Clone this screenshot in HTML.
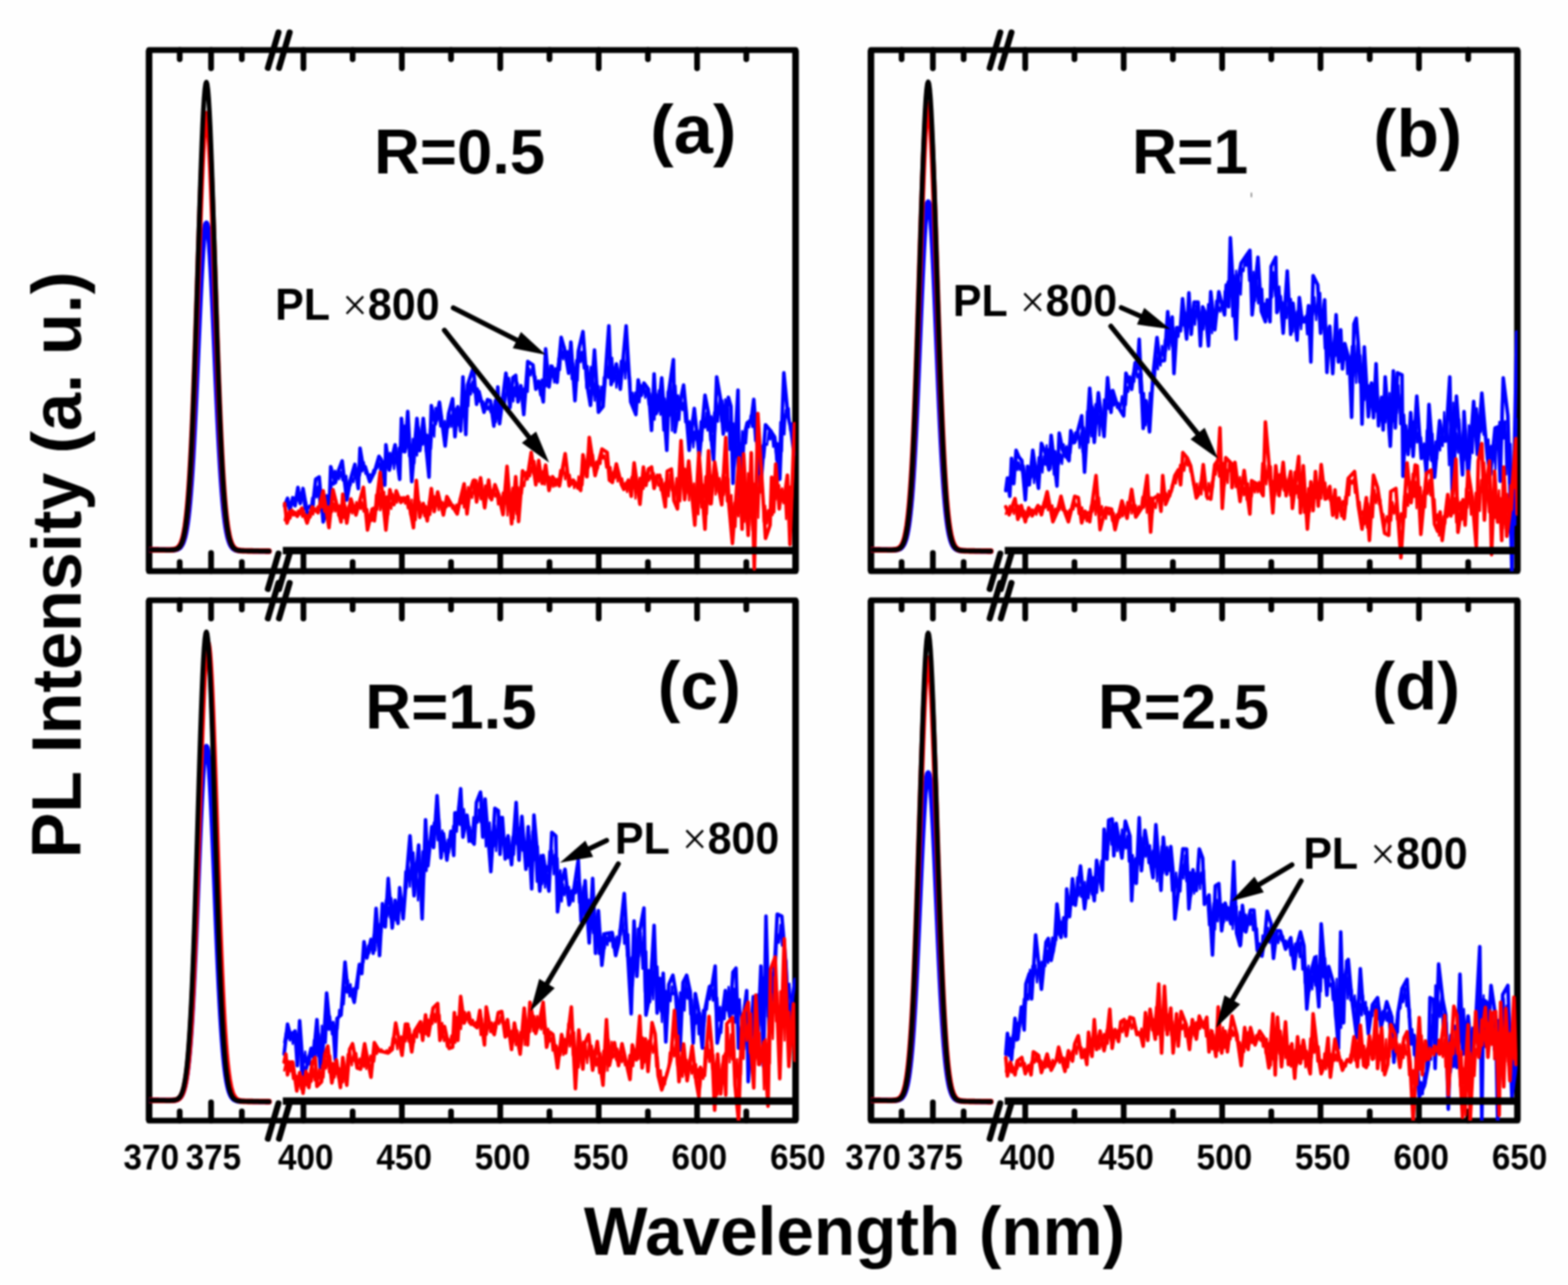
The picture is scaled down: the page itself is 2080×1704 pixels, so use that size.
<!DOCTYPE html>
<html lang="en"><head><meta charset="utf-8"><title>PL spectra</title>
<style>
html,body{margin:0;padding:0;background:#fff;}
body{width:2080px;height:1704px;overflow:hidden;}
svg{display:block;font-family:"Liberation Sans",sans-serif;font-weight:bold;fill:#000;}
</style></head><body>
<svg width="2080" height="1704" viewBox="0 0 2080 1704">
<defs><clipPath id="cpa"><rect x="197.75" y="66.40" width="857.55" height="691.00"/></clipPath><clipPath id="cpb"><rect x="1155.30" y="66.40" width="857.60" height="691.00"/></clipPath><clipPath id="cpc"><rect x="197.75" y="796.00" width="857.55" height="690.00"/></clipPath><clipPath id="cpd"><rect x="1155.30" y="796.00" width="857.60" height="690.00"/></clipPath><filter id="soft" x="0" y="0" width="100%" height="100%" filterUnits="userSpaceOnUse" color-interpolation-filters="sRGB"><feGaussianBlur stdDeviation="1.15"/></filter></defs>
<rect width="2080" height="1704" fill="#fefefe"/>
<g filter="url(#soft)">
<rect width="2080" height="1704" fill="#fefefe"/>
<g id="panel-a">
<rect x="197.75" y="66.40" width="857.55" height="691.00" fill="none" stroke="#000" stroke-width="7.7" stroke-linejoin="round"/>
<path d="M197.75 66.40 V757.40 M1055.30 66.40 V757.40" fill="none" stroke="#000" stroke-width="8.7"/>
<path d="M238.4 66.4 V78.6 M238.4 757.4 V745.2 M280.0 66.4 V90.6 M280.0 757.4 V733.2 M320.8 66.4 V78.6 M320.8 757.4 V745.2 M402.5 66.4 V90.6 M402.5 757.4 V733.2 M467.8 66.4 V78.6 M467.8 757.4 V745.2 M533.1 66.4 V90.6 M533.1 757.4 V733.2 M598.3 66.4 V78.6 M598.3 757.4 V745.2 M663.6 66.4 V90.6 M663.6 757.4 V733.2 M728.9 66.4 V78.6 M728.9 757.4 V745.2 M794.2 66.4 V90.6 M794.2 757.4 V733.2 M859.5 66.4 V78.6 M859.5 757.4 V745.2 M924.7 66.4 V90.6 M924.7 757.4 V733.2 M990.0 66.4 V78.6 M990.0 757.4 V745.2" fill="none" stroke="#000" stroke-width="7.6" stroke-linecap="round"/>
<path d="M369.4 43.0 L355.4 90.0 M384.2 43.0 L370.2 90.0 M369.4 734.0 L355.4 781.0 M384.2 734.0 L370.2 781.0" fill="none" stroke="#000" stroke-width="8" stroke-linecap="round"/>
<g clip-path="url(#cpa)" fill="none" stroke-linejoin="round" stroke-linecap="round">
<path d="M197.8 729.0 L198.8 729.0 L199.8 729.0 L200.8 729.0 L201.8 729.0 L202.8 729.1 L203.8 729.1 L204.8 729.1 L205.8 729.1 L206.8 729.1 L207.8 729.1 L208.8 729.1 L209.8 729.1 L210.8 729.2 L211.8 729.2 L212.8 729.2 L213.8 729.2 L214.8 729.2 L215.8 729.2 L216.8 729.2 L217.8 729.2 L218.8 729.2 L219.8 729.3 L220.8 729.3 L221.8 729.3 L222.8 729.3 L223.8 729.3 L224.8 729.3 L225.8 729.3 L226.8 729.3 L227.8 729.2 L228.8 729.2 L229.8 729.2 L230.8 729.1 L231.8 729.0 L232.8 728.8 L233.8 728.6 L234.8 728.3 L235.8 727.9 L236.8 727.4 L237.8 726.7 L238.8 725.9 L239.8 724.7 L240.8 723.3 L241.8 721.6 L242.8 719.3 L243.8 716.6 L244.8 713.3 L245.8 709.2 L246.8 704.3 L247.8 698.5 L248.8 691.7 L249.8 683.7 L250.8 674.5 L251.8 663.9 L252.8 651.8 L253.8 638.3 L254.8 623.3 L255.8 606.8 L256.8 588.8 L257.8 569.4 L258.8 548.8 L259.8 527.2 L260.8 504.7 L261.8 481.7 L262.8 458.4 L263.8 435.3 L264.8 412.7 L265.8 391.0 L266.8 370.6 L267.8 352.0 L268.8 335.6 L269.8 321.6 L270.8 310.4 L271.8 302.3 L272.8 297.4 L273.8 295.9 L274.8 297.8 L275.8 303.0 L276.8 311.5 L277.8 323.0 L278.8 337.2 L279.8 353.9 L280.8 372.8 L281.8 393.3 L282.8 415.1 L283.8 437.8 L284.8 461.0 L285.8 484.3 L286.8 507.3 L287.8 529.7 L288.8 551.3 L289.8 571.8 L290.8 591.1 L291.8 608.9 L292.8 625.3 L293.8 640.2 L294.8 653.6 L295.8 665.5 L296.8 676.0 L297.8 685.1 L298.8 693.0 L299.8 699.8 L300.8 705.5 L301.8 710.3 L302.8 714.3 L303.8 717.6 L304.8 720.3 L305.8 722.5 L306.8 724.3 L307.8 725.7 L308.8 726.8 L309.8 727.7 L310.8 728.3 L311.8 728.9 L312.8 729.3 L313.8 729.6 L314.8 729.8 L315.8 730.0 L316.8 730.1 L317.8 730.2 L318.8 730.3 L319.8 730.4 L320.8 730.4 L321.8 730.4 L322.8 730.5 L323.8 730.5 L324.8 730.5 L325.8 730.5 L326.8 730.5 L327.8 730.6 L328.8 730.6 L329.8 730.6 L330.8 730.6 L331.8 730.6 L332.8 730.6 L333.8 730.6 L334.8 730.6 L335.8 730.7 L336.8 730.7 L337.8 730.7 L338.8 730.7 L339.8 730.7 L340.8 730.7 L341.8 730.7 L342.8 730.7 L343.8 730.8 L344.8 730.8 L345.8 730.8 L346.8 730.8 L347.8 730.8 L348.8 730.8 L349.8 730.8 L350.8 730.8 L351.8 730.8 L352.8 730.9 L353.8 730.9 L354.8 730.9 L355.8 730.9 L356.8 730.9" stroke="#0000ff" stroke-width="7"/>
<path d="M197.8 729.0 L198.8 729.0 L199.8 729.0 L200.8 729.0 L201.8 729.0 L202.8 729.1 L203.8 729.1 L204.8 729.1 L205.8 729.1 L206.8 729.1 L207.8 729.1 L208.8 729.1 L209.8 729.1 L210.8 729.2 L211.8 729.2 L212.8 729.2 L213.8 729.2 L214.8 729.2 L215.8 729.2 L216.8 729.2 L217.8 729.2 L218.8 729.2 L219.8 729.3 L220.8 729.3 L221.8 729.3 L222.8 729.3 L223.8 729.3 L224.8 729.2 L225.8 729.2 L226.8 729.2 L227.8 729.1 L228.8 729.1 L229.8 728.9 L230.8 728.8 L231.8 728.6 L232.8 728.3 L233.8 727.9 L234.8 727.4 L235.8 726.7 L236.8 725.8 L237.8 724.7 L238.8 723.3 L239.8 721.5 L240.8 719.3 L241.8 716.5 L242.8 713.1 L243.8 708.9 L244.8 703.8 L245.8 697.8 L246.8 690.6 L247.8 682.2 L248.8 672.3 L249.8 660.9 L250.8 647.8 L251.8 633.0 L252.8 616.3 L253.8 597.7 L254.8 577.2 L255.8 554.8 L256.8 530.6 L257.8 504.7 L258.8 477.4 L259.8 448.8 L260.8 419.3 L261.8 389.2 L262.8 358.9 L263.8 329.0 L264.8 299.9 L265.8 272.0 L266.8 246.0 L267.8 222.2 L268.8 201.2 L269.8 183.5 L270.8 169.3 L271.8 159.0 L272.8 152.8 L273.8 150.9 L274.8 153.3 L275.8 159.9 L276.8 170.6 L277.8 185.2 L278.8 203.3 L279.8 224.6 L280.8 248.6 L281.8 274.9 L282.8 302.9 L283.8 332.2 L284.8 362.2 L285.8 392.5 L286.8 422.6 L287.8 452.0 L288.8 480.5 L289.8 507.8 L290.8 533.5 L291.8 557.6 L292.8 579.8 L293.8 600.2 L294.8 618.6 L295.8 635.1 L296.8 649.8 L297.8 662.7 L298.8 674.0 L299.8 683.7 L300.8 692.1 L301.8 699.1 L302.8 705.1 L303.8 710.1 L304.8 714.2 L305.8 717.6 L306.8 720.3 L307.8 722.5 L308.8 724.3 L309.8 725.7 L310.8 726.8 L311.8 727.7 L312.8 728.4 L313.8 728.9 L314.8 729.3 L315.8 729.6 L316.8 729.8 L317.8 730.0 L318.8 730.1 L319.8 730.2 L320.8 730.3 L321.8 730.4 L322.8 730.4 L323.8 730.5 L324.8 730.5 L325.8 730.5 L326.8 730.5 L327.8 730.5 L328.8 730.6 L329.8 730.6 L330.8 730.6 L331.8 730.6 L332.8 730.6 L333.8 730.6 L334.8 730.6 L335.8 730.7 L336.8 730.7 L337.8 730.7 L338.8 730.7 L339.8 730.7 L340.8 730.7 L341.8 730.7 L342.8 730.7 L343.8 730.8 L344.8 730.8 L345.8 730.8 L346.8 730.8 L347.8 730.8 L348.8 730.8 L349.8 730.8 L350.8 730.8 L351.8 730.8 L352.8 730.9 L353.8 730.9 L354.8 730.9 L355.8 730.9 L356.8 730.9" stroke="#ff0000" stroke-width="7.6"/>
<path d="M377.6 669.6 L379.5 665.5 L381.1 670.9 L382.8 666.2 L384.5 669.5 L386.5 665.2 L388.5 669.1 L390.5 659.9 L392.7 664.6 L394.7 658.1 L396.5 665.0 L398.6 654.5 L400.1 663.0 L402.3 661.6 L404.2 675.5 L405.9 665.9 L408.0 675.9 L410.2 670.4 L412.0 675.6 L414.0 660.1 L416.0 670.4 L418.0 643.3 L420.0 659.7 L421.6 644.9 L423.9 667.0 L426.0 657.7 L427.7 677.4 L429.4 659.3 L431.6 679.3 L433.5 656.3 L435.4 668.3 L437.1 650.0 L438.6 659.0 L440.2 638.9 L442.5 642.8 L444.5 624.2 L446.5 635.5 L448.1 623.9 L449.8 635.5 L452.1 625.4 L454.3 637.0 L455.8 631.8 L457.9 641.7 L459.5 631.0 L461.7 650.9 L463.6 636.8 L465.3 643.4 L466.9 634.4 L469.0 639.5 L471.3 621.6 L473.2 629.7 L475.3 619.1 L477.6 630.6 L479.5 618.8 L481.0 625.1 L482.8 612.8 L484.7 628.3 L486.8 624.2 L488.9 632.0 L491.0 629.0 L493.0 631.1 L495.3 623.1 L497.1 627.5 L498.6 617.8 L500.3 621.2 L502.3 612.5 L504.5 624.0 L506.1 607.9 L508.0 619.0 L509.8 611.5 L511.4 624.6 L513.0 610.8 L515.0 622.7 L517.3 600.5 L519.3 611.5 L521.0 599.7 L522.7 622.0 L524.9 601.6 L527.2 615.2 L529.0 593.7 L530.6 615.6 L532.8 589.1 L535.0 599.7 L536.7 564.5 L538.8 595.6 L540.7 575.7 L542.6 605.2 L544.2 588.4 L545.9 617.4 L547.6 581.9 L549.9 614.2 L551.6 576.1 L553.3 604.2 L555.5 566.4 L557.2 593.0 L559.1 568.5 L561.1 589.5 L563.1 572.7 L564.9 598.4 L566.9 576.3 L568.6 602.8 L570.3 567.8 L571.9 595.2 L573.8 563.5 L576.1 579.1 L577.8 540.6 L579.7 558.6 L581.8 547.7 L584.0 565.7 L586.1 552.0 L588.2 575.5 L590.1 558.2 L592.2 577.0 L593.8 553.9 L595.4 566.8 L597.1 549.9 L598.8 566.0 L600.7 542.0 L602.7 563.4 L604.6 541.6 L606.4 564.7 L608.5 542.6 L610.7 558.1 L612.9 534.1 L614.5 552.7 L616.2 525.5 L617.9 550.8 L619.5 513.4 L621.4 538.7 L623.2 507.8 L624.8 523.1 L626.6 505.9 L628.3 520.3 L630.1 508.5 L632.3 520.3 L633.8 515.0 L635.7 532.7 L637.7 527.8 L639.3 538.4 L641.0 532.2 L642.9 540.7 L645.1 533.2 L646.9 543.1 L648.7 539.0 L650.6 546.6 L652.1 535.7 L654.3 552.4 L656.2 530.8 L658.0 559.8 L659.8 542.3 L661.4 557.6 L663.6 527.6 L665.8 537.6 L668.0 516.3 L669.9 535.6 L672.1 515.7 L673.7 524.6 L675.4 501.0 L677.4 524.8 L679.4 506.3 L681.0 532.4 L682.7 513.5 L684.4 525.7 L686.7 507.7 L688.9 531.2 L690.9 513.2 L692.7 528.7 L694.6 515.1 L696.3 524.0 L698.4 497.4 L700.2 519.6 L701.8 488.3 L704.0 498.0 L706.0 486.9 L708.2 501.4 L710.4 499.0 L712.5 514.9 L714.5 511.2 L716.6 524.1 L718.6 503.2 L720.8 512.6 L722.5 501.2 L724.7 512.3 L726.7 487.3 L728.2 505.2 L730.0 484.7 L731.5 500.5 L733.1 493.6 L735.2 507.4 L736.8 488.1 L738.5 499.2 L740.8 475.4 L742.9 490.6 L745.0 462.9 L747.2 476.5 L748.9 459.6 L750.7 478.0 L753.0 465.7 L755.2 492.3 L756.7 471.6 L758.3 502.8 L760.5 481.9 L762.3 507.5 L764.3 477.7 L766.4 504.7 L768.6 458.6 L770.3 480.3 L772.1 466.4 L774.3 488.7 L775.9 467.8 L777.7 514.6 L779.5 485.3 L781.4 513.0 L783.5 486.5 L785.2 524.2 L786.9 500.2 L788.9 531.3 L790.5 504.0 L792.1 527.3 L794.2 511.9 L795.9 540.7 L797.7 512.7 L799.4 531.8 L800.9 500.4 L802.5 516.1 L804.4 482.7 L806.7 501.4 L808.6 469.5 L810.3 493.4 L812.2 474.4 L813.7 506.3 L815.6 487.8 L817.6 514.1 L819.3 494.3 L821.3 505.7 L823.5 478.5 L825.6 496.7 L827.2 471.0 L829.4 502.1 L831.6 467.2 L833.5 501.5 L835.7 498.8 L837.4 534.4 L839.3 520.7 L840.8 538.4 L842.7 520.3 L844.3 536.5 L846.3 522.9 L848.4 533.7 L850.6 511.0 L852.5 520.4 L854.2 511.4 L855.9 527.5 L858.0 514.6 L860.3 536.5 L862.3 521.4 L864.0 544.2 L866.1 524.4 L868.3 556.7 L870.4 522.0 L872.0 540.7 L873.9 517.6 L875.9 550.2 L877.7 529.2 L879.9 570.9 L881.8 528.3 L883.6 553.5 L885.6 519.4 L887.8 551.8 L889.5 505.6 L891.2 571.3 L893.0 506.3 L894.6 543.5 L896.2 511.5 L897.8 543.6 L899.6 524.2 L901.2 557.0 L903.4 525.1 L905.2 543.8 L907.0 533.9 L908.9 560.0 L910.6 544.4 L912.6 575.7 L914.6 558.3 L916.5 578.7 L918.2 555.0 L919.8 593.4 L921.8 571.8 L923.9 584.3 L925.5 570.7 L927.2 590.1 L929.4 558.6 L931.4 584.8 L933.1 552.7 L935.3 567.3 L937.0 547.4 L938.5 571.0 L940.5 550.2 L942.1 583.8 L943.7 552.0 L945.5 572.8 L947.2 547.0 L948.7 573.0 L950.8 533.1 L952.4 559.3 L954.6 528.1 L956.5 558.8 L958.3 530.9 L960.2 556.4 L962.1 529.3 L964.0 572.0 L965.8 541.5 L967.8 596.6 L969.4 556.4 L971.1 598.3 L973.0 561.4 L974.9 607.1 L977.1 591.2 L979.0 637.7 L980.6 586.8 L982.7 606.5 L984.4 571.6 L986.1 615.1 L987.6 581.6 L989.7 588.0 L991.6 564.3 L993.6 566.7 L995.7 551.0 L997.8 566.3 L999.5 553.0 L1001.7 584.6 L1003.2 569.6 L1005.3 614.5 L1007.5 594.7 L1009.5 626.7 L1011.5 590.6 L1013.7 607.1 L1015.5 588.5 L1017.7 589.9 L1019.8 572.3 L1021.6 582.9 L1023.6 571.2 L1025.7 592.6 L1027.6 579.6 L1029.7 610.7 L1031.5 587.7 L1033.4 614.1 L1035.1 559.7 L1037.3 598.5 L1039.0 548.0 L1040.7 576.1 L1042.3 543.8 L1044.6 553.6 L1046.4 541.3 L1048.0 570.6 L1050.2 561.4 L1052.0 581.8" stroke="#0000ff" stroke-width="2.8"/>
<path d="M377.6 670.7 L381.4 660.8 L384.5 676.8 L388.3 660.0 L391.4 670.7 L395.2 646.3 L398.2 667.7 L402.0 647.8 L408.1 682.9 L414.2 676.8 L418.8 635.6 L423.4 632.6 L428.7 692.1 L437.1 663.1 L438.7 618.8 L444.8 640.2 L449.3 623.4 L453.9 611.2 L460.0 663.1 L465.4 634.1 L470.7 615.8 L475.3 647.8 L477.6 594.4 L481.4 617.3 L484.4 618.8 L490.5 638.7 L496.6 626.5 L502.7 605.1 L507.3 612.7 L510.4 643.3 L511.9 589.9 L516.5 623.4 L524.1 589.9 L530.2 635.6 L532.5 554.8 L537.1 599.0 L540.9 545.6 L546.2 638.7 L553.1 554.8 L556.9 597.5 L561.5 554.8 L569.1 632.6 L572.2 538.0 L577.5 562.4 L582.9 533.4 L590.5 591.4 L595.1 548.7 L600.4 528.8 L603.5 579.2 L607.3 539.5 L611.1 571.5 L614.1 499.8 L617.9 576.1 L620.2 510.5 L627.9 487.6 L632.2 536.0 L635.3 519.2 L642.1 546.6 L646.7 529.9 L650.5 531.4 L655.1 565.0 L660.4 513.1 L662.7 561.9 L671.1 494.8 L676.5 540.5 L680.3 500.9 L684.1 497.8 L687.1 532.9 L691.0 511.5 L694.8 549.7 L700.1 479.5 L707.0 484.1 L710.8 516.1 L714.6 505.4 L720.7 532.9 L723.8 462.7 L728.3 513.1 L732.1 485.6 L739.0 507.0 L744.4 447.5 L749.7 465.8 L754.3 494.8 L757.3 453.6 L762.7 531.4 L767.2 465.8 L773.3 439.8 L778.7 510.0 L783.3 537.5 L788.6 464.2 L793.9 546.6 L800.0 539.0 L807.7 432.2 L810.7 510.0 L817.6 482.6 L822.9 516.1 L830.6 432.2 L836.7 532.9 L843.5 549.7 L846.6 503.9 L850.8 524.2 L854.2 508.0 L860.2 516.1 L864.3 570.7 L867.7 495.8 L870.4 548.5 L873.7 540.4 L877.8 501.2 L884.5 597.1 L887.2 518.8 L893.3 476.9 L895.3 572.8 L899.4 547.1 L906.8 510.7 L910.2 545.8 L914.2 597.1 L921.0 541.7 L927.7 606.5 L935.2 524.2 L939.9 548.5 L946.6 609.9 L950.7 499.9 L956.1 530.9 L959.5 575.5 L966.2 526.9 L969.6 539.0 L972.3 640.9 L979.0 517.4 L981.1 678.7 L985.1 586.3 L991.2 560.6 L996.6 556.6 L999.9 529.6 L1008.7 651.7 L1015.5 563.3 L1022.2 571.4 L1027.6 579.5 L1034.4 635.5 L1039.8 494.5 L1045.2 551.2 L1049.2 568.7 L1053.3 602.5" stroke="#0000ff" stroke-width="4.8"/>
<path d="M377.6 690.1 L379.6 678.4 L381.5 686.5 L383.3 677.5 L385.3 687.6 L387.1 680.6 L389.3 683.8 L391.5 678.6 L393.7 681.7 L395.4 677.0 L397.2 682.3 L399.2 679.9 L401.0 685.5 L402.7 679.3 L404.8 685.8 L406.4 682.5 L408.3 687.6 L410.2 681.2 L412.1 686.1 L413.7 679.3 L415.5 682.3 L417.4 674.4 L419.2 678.4 L421.1 671.6 L422.8 674.1 L424.6 666.6 L426.8 673.1 L428.4 662.7 L430.0 678.7 L431.9 668.1 L433.8 685.0 L435.5 671.5 L437.5 683.8 L439.2 671.1 L441.0 678.7 L442.6 667.3 L444.6 678.3 L446.4 664.2 L448.5 683.7 L450.4 669.8 L452.6 685.8 L454.3 674.4 L456.4 687.2 L458.0 670.2 L460.1 678.8 L462.3 671.0 L464.1 679.5 L465.6 670.0 L467.2 681.1 L469.0 669.1 L471.0 676.6 L472.6 665.6 L474.8 672.7 L476.6 665.5 L478.5 675.2 L480.1 665.6 L482.2 678.4 L483.8 671.2 L485.6 687.0 L487.3 675.1 L489.4 692.5 L491.1 681.6 L493.1 690.9 L495.1 673.1 L497.1 681.8 L498.7 656.1 L500.8 675.8 L502.7 648.0 L504.4 676.9 L506.1 652.1 L507.7 674.9 L509.8 652.2 L511.4 682.9 L512.9 658.1 L515.2 682.3 L516.9 665.6 L519.1 674.8 L520.9 655.2 L523.2 665.2 L525.1 655.9 L526.7 666.7 L528.6 657.8 L530.8 662.3 L532.5 659.2 L534.0 664.6 L535.6 658.9 L537.3 668.0 L539.2 663.3 L541.0 674.2 L542.7 668.8 L544.2 683.0 L546.0 662.5 L547.8 687.7 L549.7 662.5 L551.6 689.7 L553.2 660.8 L555.2 677.3 L557.0 665.3 L559.2 680.1 L561.2 674.6 L562.9 684.6 L565.1 671.0 L567.0 680.6 L568.9 665.1 L570.9 682.8 L572.7 665.9 L574.5 672.6 L576.2 658.1 L578.0 672.2 L579.8 662.9 L581.9 676.5 L583.5 662.1 L585.5 671.4 L587.1 665.6 L589.4 672.4 L590.9 668.1 L592.5 672.8 L594.4 666.9 L596.0 671.4 L598.1 667.9 L599.9 674.5 L601.9 669.7 L603.9 677.3 L605.6 668.9 L607.8 672.8 L610.0 661.3 L612.3 667.7 L613.8 657.2 L615.3 673.1 L617.0 656.6 L618.8 669.2 L620.9 645.6 L622.9 662.0 L624.6 651.2 L626.5 660.4 L628.1 647.0 L629.8 655.0 L632.0 636.6 L634.1 653.7 L636.2 648.0 L637.7 662.3 L640.0 651.4 L641.5 664.0 L643.6 643.7 L645.5 660.2 L647.5 649.4 L649.3 660.7 L651.0 648.8 L653.0 658.4 L655.3 648.2 L656.9 658.6 L658.8 653.4 L660.6 669.1 L662.8 656.0 L665.0 670.5 L667.0 653.2 L669.2 669.2 L671.5 648.3 L673.1 683.6 L675.4 644.1 L677.7 671.6 L679.8 646.7 L681.4 688.1 L683.3 655.9 L685.2 681.9 L687.1 645.9 L688.7 663.2 L690.3 645.1 L692.3 654.9 L694.1 639.4 L695.7 644.7 L697.8 625.8 L699.6 631.3 L701.5 619.8 L703.2 631.8 L705.3 618.8 L707.4 628.8 L709.1 611.4 L711.1 629.9 L713.0 621.8 L714.9 639.2 L716.9 624.3 L718.7 632.5 L720.5 624.6 L722.7 642.9 L724.6 629.5 L726.7 641.6 L728.7 631.8 L730.3 640.4 L732.0 634.3 L733.9 645.6 L735.7 638.8 L737.2 644.6 L738.9 634.8 L741.1 637.4 L743.2 623.3 L745.4 630.9 L747.5 620.4 L749.7 635.7 L751.7 623.4 L753.7 635.0 L755.9 629.6 L758.0 642.7 L759.7 636.1 L761.6 647.4 L763.5 640.2 L765.6 648.0 L767.4 631.6 L769.0 644.9 L771.0 628.0 L772.8 643.4 L775.0 614.5 L777.1 632.3 L779.2 601.9 L781.2 620.3 L782.9 605.1 L784.6 617.8 L786.8 603.2 L788.7 624.1 L790.9 611.8 L793.1 621.5 L794.6 610.0 L796.7 615.2 L798.4 599.0 L800.0 608.1 L801.9 603.9 L804.1 620.0 L805.8 608.2 L808.0 627.2 L810.0 619.4 L811.7 635.5 L813.8 625.5 L815.5 634.2 L817.4 624.6 L819.2 638.5 L821.4 627.7 L823.2 638.8 L825.3 634.3 L827.5 645.0 L829.7 640.3 L831.8 652.6 L834.0 642.0 L835.9 648.2 L837.5 632.6 L839.1 648.9 L841.1 629.9 L842.9 661.2 L844.6 633.4 L846.4 655.5 L848.6 633.5 L850.6 654.3 L852.3 637.0 L853.8 648.4 L856.0 630.3 L858.0 633.9 L859.6 624.4 L861.1 637.5 L863.1 630.2 L865.3 636.7 L867.3 627.2 L869.4 637.8 L871.5 629.1 L873.1 644.0 L874.7 640.9 L876.3 650.1 L878.2 635.1 L880.2 652.8 L882.1 639.8 L883.7 660.0 L885.4 634.2 L887.2 658.4 L889.0 628.6 L891.0 650.3 L892.8 638.5 L894.9 665.9 L897.2 634.0 L898.9 660.3 L900.9 638.1 L902.5 664.8 L904.8 621.2 L906.7 648.4 L908.7 621.5 L910.3 654.3 L912.3 633.3 L914.0 663.7 L916.3 634.6 L918.4 666.4 L920.7 641.0 L922.5 677.6 L924.7 634.3 L926.5 682.3 L928.5 635.9 L930.3 673.2 L932.1 642.2 L933.9 660.0 L935.7 631.6 L937.8 681.6 L939.5 646.7 L941.5 668.9 L943.7 630.6 L945.5 649.2 L947.6 621.7 L949.3 656.0 L951.3 628.0 L952.8 653.1 L954.7 633.9 L956.8 654.3 L958.7 629.8 L960.3 656.5 L962.3 632.7 L964.2 664.8 L966.4 634.7 L968.3 679.0 L970.4 656.5 L972.0 702.4 L974.0 666.6 L975.8 698.6 L977.4 660.7 L979.5 684.9 L981.6 631.1 L983.2 670.4 L985.3 626.4 L987.4 692.2 L989.1 655.2 L990.7 695.3 L992.3 627.5 L993.9 697.5 L996.0 653.9 L998.0 703.2 L999.7 640.8 L1002.0 702.3 L1003.7 625.2 L1005.9 686.6 L1007.8 631.0 L1009.3 653.1 L1011.4 637.7 L1013.0 692.0 L1015.1 670.6 L1017.3 694.5 L1018.9 676.4 L1020.9 695.0 L1022.8 663.2 L1024.9 683.2 L1026.9 652.3 L1028.5 662.7 L1030.2 640.3 L1032.0 663.4 L1033.7 643.3 L1035.4 663.9 L1037.6 647.4 L1039.2 667.3 L1040.9 649.5 L1042.8 688.4 L1044.3 647.7 L1045.9 679.9 L1048.1 645.2 L1050.3 670.1 L1052.3 626.2" stroke="#ff0000" stroke-width="2.8"/>
<path d="M377.6 667.7 L380.7 693.6 L386.8 676.8 L394.4 684.5 L400.5 673.8 L407.4 693.6 L414.2 672.3 L421.9 679.9 L428.7 650.9 L436.4 699.7 L441.7 649.4 L452.4 692.1 L454.7 655.5 L460.0 693.6 L465.4 661.6 L472.2 682.9 L482.1 646.3 L487.5 702.8 L493.6 675.3 L496.6 690.6 L504.3 626.5 L511.9 702.8 L517.2 649.4 L522.6 669.2 L525.6 650.9 L531.7 666.2 L540.9 658.5 L548.5 699.7 L552.3 637.2 L556.9 686.0 L561.5 667.7 L566.8 690.6 L572.2 647.8 L576.0 678.4 L580.6 652.4 L588.2 682.9 L592.8 658.5 L598.9 669.2 L606.5 681.4 L611.1 660.0 L615.7 641.7 L619.5 681.4 L623.3 650.9 L627.9 637.2 L629.2 636.7 L632.2 665.7 L637.5 633.6 L642.9 673.3 L648.2 636.7 L652.0 662.6 L656.6 642.8 L661.2 655.0 L667.3 682.4 L672.6 618.4 L678.7 694.6 L684.1 632.1 L687.9 691.6 L693.2 624.5 L699.3 635.1 L704.7 600.0 L710.8 642.8 L714.6 610.7 L719.2 641.2 L723.8 616.8 L728.3 650.4 L732.9 632.1 L742.1 644.3 L749.7 601.6 L755.0 644.3 L760.4 636.7 L770.3 650.4 L773.3 603.1 L778.7 632.1 L781.7 580.2 L789.4 630.6 L798.5 595.5 L805.4 600.0 L808.4 636.7 L812.3 639.7 L817.6 615.3 L824.5 642.8 L827.5 648.9 L833.6 636.7 L837.4 658.0 L841.2 613.8 L848.9 668.7 L853.5 619.4 L856.9 643.7 L860.2 622.1 L864.3 619.4 L867.7 647.7 L871.7 631.5 L875.1 630.2 L882.5 672.0 L885.2 624.8 L890.6 622.1 L894.0 663.9 L898.7 674.7 L903.4 584.3 L908.2 662.6 L913.6 611.3 L921.7 696.3 L927.1 600.5 L935.2 701.7 L939.9 597.8 L943.3 668.0 L948.0 612.6 L953.4 647.7 L957.4 669.3 L962.8 580.2 L966.2 661.2 L971.6 720.6 L980.4 607.2 L984.4 701.7 L986.4 601.8 L992.5 709.8 L996.6 600.5 L1000.6 754.4 L1005.3 548.5 L1015.5 713.9 L1021.5 696.3 L1023.6 632.9 L1026.3 678.8 L1029.0 615.3 L1033.7 674.7 L1036.4 650.4 L1039.8 665.3 L1044.5 630.2 L1047.9 722.0 L1053.9 562.0" stroke="#ff0000" stroke-width="4.8"/>
<path d="M197.8 729.0 L198.8 729.0 L199.8 729.0 L200.8 729.0 L201.8 729.0 L202.8 729.1 L203.8 729.1 L204.8 729.1 L205.8 729.1 L206.8 729.1 L207.8 729.1 L208.8 729.1 L209.8 729.1 L210.8 729.2 L211.8 729.2 L212.8 729.2 L213.8 729.2 L214.8 729.2 L215.8 729.2 L216.8 729.2 L217.8 729.2 L218.8 729.2 L219.8 729.3 L220.8 729.3 L221.8 729.3 L222.8 729.3 L223.8 729.3 L224.8 729.3 L225.8 729.3 L226.8 729.2 L227.8 729.2 L228.8 729.1 L229.8 729.1 L230.8 728.9 L231.8 728.8 L232.8 728.5 L233.8 728.2 L234.8 727.8 L235.8 727.2 L236.8 726.5 L237.8 725.5 L238.8 724.3 L239.8 722.7 L240.8 720.7 L241.8 718.1 L242.8 714.9 L243.8 711.0 L244.8 706.2 L245.8 700.4 L246.8 693.5 L247.8 685.1 L248.8 675.4 L249.8 663.9 L250.8 650.7 L251.8 635.5 L252.8 618.3 L253.8 599.0 L254.8 577.5 L255.8 553.8 L256.8 528.1 L257.8 500.4 L258.8 470.9 L259.8 439.9 L260.8 407.7 L261.8 374.8 L262.8 341.5 L263.8 308.4 L264.8 276.0 L265.8 245.0 L266.8 215.8 L267.8 189.2 L268.8 165.7 L269.8 145.7 L270.8 129.7 L271.8 118.1 L272.8 111.1 L273.8 108.9 L274.8 111.6 L275.8 119.1 L276.8 131.2 L277.8 147.6 L278.8 168.0 L279.8 191.9 L280.8 218.8 L281.8 248.2 L282.8 279.4 L283.8 311.9 L284.8 345.1 L285.8 378.4 L286.8 411.3 L287.8 443.4 L288.8 474.3 L289.8 503.6 L290.8 531.2 L291.8 556.7 L292.8 580.2 L293.8 601.5 L294.8 620.6 L295.8 637.6 L296.8 652.6 L297.8 665.7 L298.8 677.0 L299.8 686.7 L300.8 694.9 L301.8 701.7 L302.8 707.5 L303.8 712.2 L304.8 716.0 L305.8 719.2 L306.8 721.7 L307.8 723.7 L308.8 725.3 L309.8 726.5 L310.8 727.5 L311.8 728.2 L312.8 728.8 L313.8 729.2 L314.8 729.6 L315.8 729.8 L316.8 730.0 L317.8 730.1 L318.8 730.2 L319.8 730.3 L320.8 730.4 L321.8 730.4 L322.8 730.4 L323.8 730.5 L324.8 730.5 L325.8 730.5 L326.8 730.5 L327.8 730.6 L328.8 730.6 L329.8 730.6 L330.8 730.6 L331.8 730.6 L332.8 730.6 L333.8 730.6 L334.8 730.6 L335.8 730.7 L336.8 730.7 L337.8 730.7 L338.8 730.7 L339.8 730.7 L340.8 730.7 L341.8 730.7 L342.8 730.7 L343.8 730.8 L344.8 730.8 L345.8 730.8 L346.8 730.8 L347.8 730.8 L348.8 730.8 L349.8 730.8 L350.8 730.8 L351.8 730.8 L352.8 730.9 L353.8 730.9 L354.8 730.9 L355.8 730.9 L356.8 730.9" stroke="#000" stroke-width="6.2"/>
<path d="M375.2 730.1 H1055.3" stroke="#000" stroke-width="9.8" stroke-linecap="butt"/>
</g>
</g>
<g id="panel-b">
<rect x="1155.30" y="66.40" width="857.60" height="691.00" fill="none" stroke="#000" stroke-width="7.7" stroke-linejoin="round"/>
<path d="M1155.30 66.40 V757.40 M2012.90 66.40 V757.40" fill="none" stroke="#000" stroke-width="8.7"/>
<path d="M1196.0 66.4 V78.6 M1196.0 757.4 V745.2 M1237.5 66.4 V90.6 M1237.5 757.4 V733.2 M1278.3 66.4 V78.6 M1278.3 757.4 V745.2 M1360.0 66.4 V90.6 M1360.0 757.4 V733.2 M1425.3 66.4 V78.6 M1425.3 757.4 V745.2 M1490.6 66.4 V90.6 M1490.6 757.4 V733.2 M1555.9 66.4 V78.6 M1555.9 757.4 V745.2 M1621.2 66.4 V90.6 M1621.2 757.4 V733.2 M1686.4 66.4 V78.6 M1686.4 757.4 V745.2 M1751.7 66.4 V90.6 M1751.7 757.4 V733.2 M1817.0 66.4 V78.6 M1817.0 757.4 V745.2 M1882.3 66.4 V90.6 M1882.3 757.4 V733.2 M1947.6 66.4 V78.6 M1947.6 757.4 V745.2" fill="none" stroke="#000" stroke-width="7.6" stroke-linecap="round"/>
<path d="M1326.9 43.0 L1312.9 90.0 M1341.7 43.0 L1327.7 90.0 M1326.9 734.0 L1312.9 781.0 M1341.7 734.0 L1327.7 781.0" fill="none" stroke="#000" stroke-width="8" stroke-linecap="round"/>
<g clip-path="url(#cpb)" fill="none" stroke-linejoin="round" stroke-linecap="round">
<path d="M1155.3 729.0 L1156.3 729.0 L1157.3 729.0 L1158.3 729.0 L1159.3 729.0 L1160.3 729.1 L1161.3 729.1 L1162.3 729.1 L1163.3 729.1 L1164.3 729.1 L1165.3 729.1 L1166.3 729.1 L1167.3 729.1 L1168.3 729.2 L1169.3 729.2 L1170.3 729.2 L1171.3 729.2 L1172.3 729.2 L1173.3 729.2 L1174.3 729.2 L1175.3 729.2 L1176.3 729.2 L1177.3 729.3 L1178.3 729.3 L1179.3 729.3 L1180.3 729.3 L1181.3 729.3 L1182.3 729.3 L1183.3 729.3 L1184.3 729.3 L1185.3 729.2 L1186.3 729.2 L1187.3 729.1 L1188.3 729.1 L1189.3 728.9 L1190.3 728.8 L1191.3 728.5 L1192.3 728.2 L1193.3 727.8 L1194.3 727.3 L1195.3 726.6 L1196.3 725.6 L1197.3 724.4 L1198.3 722.9 L1199.3 721.0 L1200.3 718.7 L1201.3 715.8 L1202.3 712.2 L1203.3 707.9 L1204.3 702.7 L1205.3 696.5 L1206.3 689.2 L1207.3 680.7 L1208.3 670.9 L1209.3 659.6 L1210.3 646.8 L1211.3 632.4 L1212.3 616.5 L1213.3 598.9 L1214.3 579.7 L1215.3 559.1 L1216.3 537.2 L1217.3 514.1 L1218.3 490.2 L1219.3 465.7 L1220.3 440.9 L1221.3 416.3 L1222.3 392.2 L1223.3 369.1 L1224.3 347.4 L1225.3 327.6 L1226.3 310.1 L1227.3 295.2 L1228.3 283.4 L1229.3 274.7 L1230.3 269.5 L1231.3 267.9 L1232.3 269.9 L1233.3 275.5 L1234.3 284.5 L1235.3 296.7 L1236.3 311.9 L1237.3 329.7 L1238.3 349.7 L1239.3 371.5 L1240.3 394.8 L1241.3 418.9 L1242.3 443.6 L1243.3 468.4 L1244.3 492.9 L1245.3 516.8 L1246.3 539.8 L1247.3 561.6 L1248.3 582.1 L1249.3 601.1 L1250.3 618.6 L1251.3 634.4 L1252.3 648.7 L1253.3 661.3 L1254.3 672.5 L1255.3 682.2 L1256.3 690.6 L1257.3 697.8 L1258.3 703.9 L1259.3 709.0 L1260.3 713.3 L1261.3 716.8 L1262.3 719.7 L1263.3 722.0 L1264.3 723.9 L1265.3 725.4 L1266.3 726.6 L1267.3 727.5 L1268.3 728.2 L1269.3 728.8 L1270.3 729.2 L1271.3 729.5 L1272.3 729.8 L1273.3 730.0 L1274.3 730.1 L1275.3 730.2 L1276.3 730.3 L1277.3 730.3 L1278.3 730.4 L1279.3 730.4 L1280.3 730.5 L1281.3 730.5 L1282.3 730.5 L1283.3 730.5 L1284.3 730.5 L1285.3 730.6 L1286.3 730.6 L1287.3 730.6 L1288.3 730.6 L1289.3 730.6 L1290.3 730.6 L1291.3 730.6 L1292.3 730.6 L1293.3 730.7 L1294.3 730.7 L1295.3 730.7 L1296.3 730.7 L1297.3 730.7 L1298.3 730.7 L1299.3 730.7 L1300.3 730.7 L1301.3 730.8 L1302.3 730.8 L1303.3 730.8 L1304.3 730.8 L1305.3 730.8 L1306.3 730.8 L1307.3 730.8 L1308.3 730.8 L1309.3 730.8 L1310.3 730.9 L1311.3 730.9 L1312.3 730.9 L1313.3 730.9 L1314.3 730.9" stroke="#0000ff" stroke-width="7"/>
<path d="M1155.3 729.0 L1156.3 729.0 L1157.3 729.0 L1158.3 729.0 L1159.3 729.0 L1160.3 729.1 L1161.3 729.1 L1162.3 729.1 L1163.3 729.1 L1164.3 729.1 L1165.3 729.1 L1166.3 729.1 L1167.3 729.1 L1168.3 729.2 L1169.3 729.2 L1170.3 729.2 L1171.3 729.2 L1172.3 729.2 L1173.3 729.2 L1174.3 729.2 L1175.3 729.2 L1176.3 729.2 L1177.3 729.3 L1178.3 729.3 L1179.3 729.3 L1180.3 729.3 L1181.3 729.3 L1182.3 729.2 L1183.3 729.2 L1184.3 729.2 L1185.3 729.1 L1186.3 729.0 L1187.3 728.9 L1188.3 728.8 L1189.3 728.6 L1190.3 728.3 L1191.3 727.9 L1192.3 727.3 L1193.3 726.6 L1194.3 725.8 L1195.3 724.6 L1196.3 723.2 L1197.3 721.3 L1198.3 719.0 L1199.3 716.2 L1200.3 712.7 L1201.3 708.4 L1202.3 703.3 L1203.3 697.1 L1204.3 689.8 L1205.3 681.1 L1206.3 671.0 L1207.3 659.4 L1208.3 646.0 L1209.3 630.8 L1210.3 613.8 L1211.3 594.8 L1212.3 573.8 L1213.3 550.9 L1214.3 526.2 L1215.3 499.7 L1216.3 471.7 L1217.3 442.5 L1218.3 412.3 L1219.3 381.5 L1220.3 350.6 L1221.3 320.0 L1222.3 290.2 L1223.3 261.7 L1224.3 235.1 L1225.3 210.8 L1226.3 189.4 L1227.3 171.2 L1228.3 156.7 L1229.3 146.2 L1230.3 139.9 L1231.3 137.9 L1232.3 140.3 L1233.3 147.1 L1234.3 158.1 L1235.3 173.0 L1236.3 191.5 L1237.3 213.3 L1238.3 237.8 L1239.3 264.7 L1240.3 293.4 L1241.3 323.3 L1242.3 354.0 L1243.3 384.9 L1244.3 415.7 L1245.3 445.8 L1246.3 474.9 L1247.3 502.8 L1248.3 529.1 L1249.3 553.7 L1250.3 576.4 L1251.3 597.2 L1252.3 616.1 L1253.3 633.0 L1254.3 648.0 L1255.3 661.2 L1256.3 672.7 L1257.3 682.7 L1258.3 691.2 L1259.3 698.4 L1260.3 704.5 L1261.3 709.6 L1262.3 713.8 L1263.3 717.3 L1264.3 720.1 L1265.3 722.4 L1266.3 724.2 L1267.3 725.6 L1268.3 726.7 L1269.3 727.6 L1270.3 728.3 L1271.3 728.9 L1272.3 729.3 L1273.3 729.6 L1274.3 729.8 L1275.3 730.0 L1276.3 730.1 L1277.3 730.2 L1278.3 730.3 L1279.3 730.4 L1280.3 730.4 L1281.3 730.5 L1282.3 730.5 L1283.3 730.5 L1284.3 730.5 L1285.3 730.5 L1286.3 730.6 L1287.3 730.6 L1288.3 730.6 L1289.3 730.6 L1290.3 730.6 L1291.3 730.6 L1292.3 730.6 L1293.3 730.7 L1294.3 730.7 L1295.3 730.7 L1296.3 730.7 L1297.3 730.7 L1298.3 730.7 L1299.3 730.7 L1300.3 730.7 L1301.3 730.8 L1302.3 730.8 L1303.3 730.8 L1304.3 730.8 L1305.3 730.8 L1306.3 730.8 L1307.3 730.8 L1308.3 730.8 L1309.3 730.8 L1310.3 730.9 L1311.3 730.9 L1312.3 730.9 L1313.3 730.9 L1314.3 730.9" stroke="#ff0000" stroke-width="7.6"/>
<path d="M1334.2 650.8 L1336.0 635.2 L1338.2 645.8 L1339.7 631.2 L1341.4 641.5 L1343.6 617.0 L1345.8 632.0 L1347.8 604.9 L1349.6 623.4 L1351.3 612.8 L1352.9 623.3 L1354.4 616.5 L1356.6 629.8 L1358.1 617.4 L1360.3 637.8 L1362.5 627.0 L1364.2 643.0 L1366.2 619.5 L1368.2 633.5 L1369.8 612.5 L1371.7 640.6 L1373.7 616.1 L1375.9 630.8 L1377.7 606.4 L1379.3 631.0 L1381.1 603.1 L1382.9 626.7 L1384.8 604.8 L1386.7 616.4 L1388.4 590.5 L1390.1 612.3 L1391.6 595.1 L1393.7 622.0 L1395.7 595.1 L1397.9 629.4 L1399.9 598.1 L1401.6 618.5 L1403.6 593.4 L1405.2 615.3 L1406.8 602.2 L1408.9 615.3 L1411.1 589.2 L1412.8 606.4 L1414.6 591.6 L1416.2 604.9 L1418.2 588.0 L1420.1 601.4 L1422.1 581.6 L1424.2 588.2 L1426.3 573.4 L1427.9 583.9 L1430.1 568.8 L1432.0 594.2 L1434.2 574.0 L1436.0 599.9 L1437.7 566.7 L1439.7 596.5 L1441.9 545.6 L1444.0 587.0 L1446.1 547.5 L1447.7 578.7 L1449.4 539.0 L1451.4 558.5 L1453.0 535.9 L1455.2 561.4 L1456.7 542.1 L1458.4 577.7 L1460.3 545.4 L1462.4 568.1 L1464.4 529.7 L1466.4 555.9 L1468.5 533.7 L1470.7 542.6 L1472.8 517.9 L1474.5 539.2 L1476.2 524.1 L1477.8 537.9 L1479.8 529.7 L1481.6 540.9 L1483.8 534.2 L1485.9 543.2 L1488.2 525.3 L1490.4 542.1 L1492.0 522.5 L1493.6 537.0 L1495.2 513.5 L1496.8 519.6 L1498.8 498.9 L1500.7 505.8 L1503.0 494.9 L1504.8 506.2 L1506.7 479.1 L1508.6 500.5 L1510.7 495.9 L1512.2 520.8 L1514.3 495.6 L1516.1 535.6 L1517.7 521.2 L1519.6 564.1 L1521.4 535.7 L1523.6 556.8 L1525.2 520.8 L1527.3 530.0 L1529.5 492.7 L1531.6 508.9 L1533.9 472.0 L1536.0 489.8 L1537.7 466.3 L1539.6 484.9 L1541.3 458.6 L1543.5 472.1 L1545.1 450.5 L1547.0 465.5 L1548.9 442.1 L1550.9 463.3 L1552.8 435.4 L1554.7 459.4 L1557.0 434.1 L1559.0 454.1 L1561.2 441.6 L1563.4 446.7 L1565.1 432.0 L1566.8 439.6 L1568.4 423.4 L1570.6 432.4 L1572.3 414.2 L1574.0 434.2 L1575.8 419.3 L1577.5 432.5 L1579.2 414.1 L1581.2 431.6 L1583.4 402.1 L1585.3 430.6 L1587.4 404.6 L1589.3 424.0 L1590.9 412.0 L1593.0 428.2 L1594.7 414.7 L1596.4 437.0 L1598.2 414.5 L1600.3 431.2 L1602.5 403.3 L1604.6 430.0 L1606.3 412.2 L1607.9 441.9 L1609.8 411.7 L1611.4 427.9 L1613.1 399.0 L1614.8 416.1 L1616.6 406.9 L1618.8 413.4 L1621.0 399.2 L1623.1 412.8 L1624.6 386.2 L1626.7 404.2 L1628.4 373.4 L1630.5 401.9 L1632.6 360.8 L1634.7 419.8 L1636.5 364.8 L1638.2 411.5 L1639.7 358.8 L1641.7 410.3 L1643.7 373.2 L1646.0 390.7 L1647.6 356.2 L1649.7 359.6 L1651.4 341.9 L1653.2 352.6 L1655.0 340.1 L1657.0 372.4 L1659.2 358.0 L1660.9 390.4 L1662.8 360.3 L1665.0 399.2 L1667.2 373.2 L1668.8 402.4 L1670.7 383.2 L1672.6 408.3 L1674.4 382.9 L1676.1 417.1 L1677.7 402.3 L1679.4 419.8 L1681.5 398.0 L1683.8 405.8 L1685.4 375.0 L1687.5 394.4 L1689.3 360.9 L1691.6 392.9 L1693.4 359.2 L1695.3 413.3 L1697.1 379.8 L1699.2 413.6 L1701.3 400.7 L1703.6 411.4 L1705.2 402.2 L1706.9 421.8 L1709.1 401.7 L1710.8 416.4 L1712.6 396.4 L1714.9 440.0 L1716.8 416.9 L1718.5 435.9 L1720.7 413.0 L1722.3 427.3 L1723.9 414.4 L1726.0 436.7 L1727.9 419.0 L1730.0 425.4 L1732.0 418.9 L1733.8 443.3 L1735.8 414.6 L1737.8 439.1 L1739.7 404.4 L1742.0 417.6 L1743.7 394.1 L1745.9 424.5 L1748.1 394.0 L1749.8 416.1 L1751.4 388.5 L1752.9 431.2 L1755.0 410.1 L1757.2 462.1 L1758.9 430.6 L1761.0 465.5 L1762.5 434.4 L1764.4 470.5 L1766.3 454.4 L1767.9 474.5 L1769.5 452.9 L1771.5 472.1 L1773.7 448.7 L1775.9 465.8 L1777.6 451.9 L1779.8 467.1 L1781.5 460.8 L1783.4 477.3 L1785.4 463.7 L1787.1 496.1 L1788.9 470.9 L1791.1 494.0 L1793.2 459.2 L1795.5 498.9 L1797.0 458.2 L1799.0 507.8 L1800.7 455.3 L1802.9 507.3 L1804.8 471.5 L1806.7 510.4 L1808.6 491.9 L1810.2 530.3 L1812.2 510.6 L1814.3 535.3 L1816.0 510.8 L1818.2 539.4 L1820.3 514.4 L1821.9 545.9 L1823.5 524.3 L1825.7 545.8 L1827.6 521.9 L1829.8 549.1 L1832.1 530.1 L1834.0 551.7 L1836.0 529.9 L1837.8 560.2 L1839.4 532.6 L1841.1 556.7 L1843.3 521.1 L1845.3 574.1 L1846.9 532.0 L1848.6 558.9 L1850.9 514.5 L1853.2 548.0 L1855.2 510.9 L1857.3 562.5 L1858.9 523.0 L1861.0 582.8 L1862.8 549.9 L1864.9 589.1 L1866.8 573.8 L1868.5 601.1 L1870.3 570.4 L1872.4 593.2 L1874.1 559.0 L1875.7 575.0 L1877.7 550.3 L1879.7 586.9 L1881.3 573.8 L1883.0 587.6 L1885.2 579.9 L1887.3 605.2 L1889.0 588.0 L1891.1 608.6 L1892.6 570.7 L1894.9 609.8 L1896.5 572.6 L1898.4 611.3 L1900.4 575.1 L1902.4 615.6 L1904.3 585.3 L1906.5 608.4 L1908.6 576.2 L1910.4 597.3 L1912.1 571.2 L1913.8 591.7 L1915.7 546.4 L1917.7 579.8 L1919.8 557.7 L1922.1 616.9 L1923.8 568.3 L1925.9 602.5 L1927.8 533.8 L1929.8 622.3 L1932.0 574.5 L1934.2 600.4 L1935.9 556.1 L1938.1 589.7 L1940.4 583.4 L1942.3 610.3 L1944.3 583.9 L1946.4 608.1 L1948.5 564.0 L1950.3 607.6 L1952.0 567.1 L1953.6 601.0 L1955.2 559.3 L1957.4 580.5 L1959.1 541.4 L1961.1 573.6 L1962.7 552.7 L1964.4 573.0 L1966.0 548.2 L1967.9 576.7 L1970.0 569.8 L1972.2 595.3 L1974.5 582.7 L1976.0 607.7 L1978.0 591.1 L1979.9 614.3 L1982.1 588.7 L1983.8 622.6 L1985.4 569.3 L1987.0 595.2 L1988.9 559.3 L1990.8 595.9 L1992.4 528.3 L1994.6 581.6 L1996.6 558.4 L1998.3 629.3 L2000.2 561.7 L2002.0 641.2 L2003.9 588.7 L2006.2 693.4 L2008.2 597.4 L2010.1 696.1 L2011.7 555.3" stroke="#0000ff" stroke-width="2.8"/>
<path d="M1334.2 650.6 L1336.4 633.8 L1339.5 658.2 L1341.8 607.8 L1344.8 641.4 L1347.9 597.2 L1351.7 606.3 L1355.5 610.9 L1360.1 662.8 L1363.1 618.5 L1365.4 642.9 L1370.0 597.2 L1377.6 647.5 L1381.5 588.0 L1386.0 598.7 L1391.4 623.1 L1394.4 577.3 L1402.1 644.5 L1405.1 574.3 L1409.7 597.2 L1418.1 610.9 L1420.4 571.2 L1425.7 586.5 L1434.9 551.4 L1438.7 626.2 L1445.5 514.8 L1451.6 586.5 L1457.0 520.9 L1464.6 578.8 L1469.2 501.0 L1473.8 546.8 L1476.1 517.8 L1482.2 537.7 L1490.6 551.4 L1493.6 494.9 L1501.2 516.3 L1505.8 481.2 L1508.9 488.8 L1511.2 449.9 L1516.5 568.2 L1520.3 531.5 L1524.9 572.7 L1529.5 498.0 L1534.8 447.6 L1538.6 478.9 L1544.7 478.1 L1549.0 413.3 L1552.3 449.2 L1555.0 420.5 L1557.3 495.3 L1561.1 434.3 L1565.7 437.3 L1568.7 396.1 L1574.1 449.5 L1577.1 388.5 L1580.2 443.4 L1584.0 400.7 L1589.3 400.7 L1592.4 458.7 L1595.4 406.8 L1599.2 416.0 L1603.1 458.7 L1606.1 387.0 L1611.5 437.3 L1616.8 387.0 L1624.4 417.5 L1626.7 377.8 L1629.8 406.8 L1632.1 315.3 L1639.7 449.5 L1642.7 368.7 L1646.5 348.8 L1652.7 339.7 L1658.0 332.0 L1661.0 417.5 L1668.7 341.2 L1673.3 412.9 L1678.6 426.6 L1680.9 397.7 L1684.7 426.6 L1686.2 353.4 L1692.3 341.2 L1693.8 414.4 L1698.4 393.1 L1702.2 441.9 L1707.6 359.5 L1712.2 443.4 L1715.2 402.2 L1720.6 451.1 L1723.6 394.6 L1727.4 426.6 L1733.5 426.6 L1735.8 405.3 L1738.9 480.0 L1741.9 365.6 L1748.0 377.8 L1751.8 441.9 L1757.2 397.7 L1760.2 493.8 L1764.0 432.7 L1767.9 495.3 L1772.4 417.5 L1775.5 480.0 L1778.5 437.3 L1780.8 489.2 L1783.9 455.6 L1790.0 478.5 L1793.0 553.3 L1796.1 429.7 L1799.1 422.1 L1805.2 498.4 L1806.8 562.4 L1809.8 460.2 L1815.2 552.5 L1819.3 508.0 L1822.0 553.9 L1825.4 482.3 L1828.7 564.7 L1832.8 526.9 L1834.8 570.1 L1837.5 499.9 L1844.3 591.7 L1848.3 491.8 L1851.0 567.4 L1853.7 494.5 L1859.8 497.2 L1861.1 631.5 L1864.5 564.7 L1867.9 602.5 L1871.3 547.1 L1874.6 605.2 L1879.4 525.5 L1885.4 607.9 L1889.5 599.8 L1892.2 629.5 L1895.6 536.3 L1903.0 632.8 L1909.7 557.9 L1914.5 584.9 L1917.8 584.9 L1923.2 499.9 L1926.6 659.8 L1932.0 525.5 L1940.1 629.5 L1942.1 545.8 L1947.5 632.2 L1954.9 532.3 L1959.7 602.5 L1965.7 521.5 L1973.2 607.9 L1977.2 629.5 L1983.3 567.4 L1987.3 566.0 L1990.0 638.2 L1994.1 501.2 L2000.2 551.2 L2002.9 643.0 L2005.6 758.4 L2012.0 440.5" stroke="#0000ff" stroke-width="4.8"/>
<path d="M1334.2 681.6 L1336.2 674.7 L1337.8 678.7 L1339.4 670.7 L1341.2 679.6 L1343.1 670.2 L1344.9 681.6 L1347.1 672.3 L1349.3 682.8 L1351.0 670.2 L1352.7 686.1 L1354.8 680.4 L1356.8 685.8 L1358.9 677.2 L1360.9 683.9 L1362.6 677.8 L1364.1 685.4 L1366.0 677.9 L1367.6 682.7 L1369.4 675.4 L1371.0 681.6 L1373.2 675.7 L1374.9 682.7 L1376.8 676.2 L1379.0 677.9 L1380.6 671.5 L1382.6 678.0 L1384.3 666.0 L1386.6 673.4 L1388.1 662.6 L1390.1 676.7 L1392.2 669.9 L1394.0 678.0 L1396.1 670.2 L1397.9 684.5 L1399.8 674.5 L1401.6 682.5 L1403.3 671.4 L1405.2 677.0 L1407.3 669.1 L1409.3 676.7 L1411.4 670.7 L1413.0 680.9 L1414.6 677.3 L1416.5 682.3 L1418.7 676.0 L1420.4 680.8 L1422.4 668.4 L1424.2 675.6 L1425.7 665.2 L1427.3 671.4 L1429.3 668.2 L1430.8 681.5 L1432.4 669.5 L1433.9 679.2 L1435.6 672.8 L1437.8 687.2 L1439.5 683.1 L1441.5 691.3 L1443.3 678.8 L1445.4 680.7 L1447.1 670.2 L1449.3 678.9 L1451.3 663.1 L1453.2 682.8 L1454.8 654.8 L1456.4 680.1 L1458.0 660.0 L1460.2 683.9 L1461.9 671.1 L1463.6 687.6 L1465.6 675.6 L1467.2 688.1 L1468.9 673.7 L1471.0 682.5 L1473.0 677.2 L1475.2 690.8 L1477.4 679.8 L1479.3 693.8 L1481.2 681.8 L1483.0 690.0 L1484.5 677.0 L1486.0 686.7 L1487.7 672.4 L1489.3 684.9 L1491.4 673.8 L1493.5 680.8 L1495.3 665.7 L1497.3 680.3 L1499.3 663.0 L1501.1 681.2 L1502.6 669.3 L1504.6 680.3 L1506.7 670.0 L1508.8 679.2 L1510.8 671.2 L1513.1 677.1 L1515.3 658.8 L1517.5 673.4 L1519.4 654.2 L1521.2 680.0 L1523.4 657.8 L1525.3 676.4 L1527.3 659.3 L1529.3 679.5 L1531.1 666.6 L1533.3 673.8 L1535.6 654.9 L1537.4 665.2 L1539.2 656.6 L1541.2 665.9 L1542.9 655.5 L1544.8 664.2 L1546.7 653.6 L1548.5 664.1 L1550.5 650.7 L1552.5 658.0 L1554.3 643.1 L1556.1 645.9 L1558.0 636.3 L1559.9 641.2 L1561.6 627.7 L1563.7 631.2 L1565.3 616.5 L1566.9 626.9 L1569.2 613.1 L1571.1 624.4 L1573.2 607.6 L1575.2 617.6 L1577.4 614.2 L1579.1 625.6 L1580.8 627.0 L1582.7 642.2 L1584.2 638.9 L1586.1 651.0 L1587.9 641.1 L1590.1 657.7 L1591.9 639.9 L1593.8 655.9 L1595.7 636.4 L1597.9 650.2 L1599.5 643.5 L1601.4 662.0 L1603.3 640.4 L1605.4 652.2 L1607.1 639.1 L1608.8 647.5 L1610.9 623.0 L1612.8 629.6 L1614.9 608.6 L1617.1 632.0 L1619.1 610.0 L1620.8 633.7 L1622.7 613.6 L1624.9 643.5 L1626.8 622.1 L1628.7 640.5 L1630.4 611.6 L1632.2 625.0 L1634.0 613.9 L1635.6 627.4 L1637.2 627.2 L1639.1 646.2 L1640.9 631.2 L1642.6 645.0 L1644.9 632.5 L1646.4 649.7 L1648.2 637.1 L1650.0 656.9 L1652.0 645.8 L1653.7 662.8 L1655.6 640.9 L1657.4 665.6 L1658.9 646.7 L1660.7 658.3 L1662.7 641.4 L1664.7 653.2 L1666.4 639.9 L1668.4 653.0 L1670.0 638.8 L1672.2 653.0 L1674.4 614.2 L1676.3 649.6 L1678.1 616.5 L1679.9 642.3 L1682.2 616.3 L1684.3 643.3 L1686.0 618.5 L1687.6 655.8 L1689.5 637.4 L1691.2 658.2 L1693.2 636.6 L1695.1 656.2 L1697.2 628.9 L1699.1 649.5 L1701.0 635.2 L1703.1 650.8 L1704.8 631.2 L1707.0 646.0 L1709.0 634.8 L1711.2 657.2 L1713.0 638.9 L1715.2 651.7 L1717.3 625.6 L1718.9 654.6 L1720.5 643.7 L1722.3 660.3 L1724.0 627.9 L1725.8 658.8 L1727.8 634.1 L1729.8 680.0 L1732.0 654.4 L1733.7 674.7 L1735.4 647.4 L1737.5 678.8 L1739.5 652.0 L1741.4 672.7 L1743.6 652.7 L1745.2 660.7 L1747.4 640.4 L1749.4 649.9 L1750.9 631.9 L1752.8 661.3 L1754.5 639.3 L1756.2 654.0 L1758.2 639.8 L1760.4 662.0 L1762.0 654.3 L1764.1 663.7 L1765.9 657.7 L1767.9 670.4 L1769.8 660.6 L1771.6 673.8 L1773.3 666.8 L1774.8 679.4 L1776.9 668.2 L1779.1 684.9 L1781.3 664.5 L1782.9 671.0 L1784.4 658.6 L1786.6 668.9 L1788.2 644.7 L1789.9 656.9 L1791.5 636.3 L1793.4 641.4 L1795.5 635.6 L1797.3 653.5 L1799.3 648.7 L1801.5 674.7 L1803.7 665.4 L1805.8 683.1 L1807.7 678.2 L1809.7 695.5 L1811.3 684.4 L1813.2 699.5 L1814.9 667.4 L1817.2 687.9 L1819.1 657.1 L1821.3 686.1 L1823.3 649.7 L1825.4 667.3 L1827.5 650.1 L1829.1 668.6 L1831.1 662.4 L1832.9 684.8 L1835.2 681.7 L1837.1 700.1 L1839.4 684.3 L1841.7 694.2 L1843.9 674.7 L1845.6 690.4 L1847.3 665.7 L1849.3 681.3 L1851.4 667.1 L1853.0 688.9 L1855.0 680.6 L1856.9 699.3 L1858.6 680.5 L1860.7 693.3 L1862.4 658.1 L1864.5 686.0 L1866.1 654.7 L1868.1 670.8 L1870.2 637.9 L1872.2 655.7 L1873.9 628.1 L1875.9 659.2 L1877.5 638.4 L1879.1 674.0 L1880.9 643.7 L1882.5 670.3 L1884.5 646.0 L1886.6 674.5 L1888.7 650.7 L1890.7 672.9 L1892.4 634.8 L1894.1 655.2 L1896.0 636.5 L1897.6 657.1 L1899.4 642.5 L1901.0 671.0 L1903.1 661.8 L1905.0 690.3 L1907.3 681.9 L1908.9 710.4 L1910.9 691.9 L1912.8 701.4 L1914.9 684.5 L1917.1 694.9 L1918.8 679.2 L1920.4 685.8 L1922.0 665.6 L1924.1 680.2 L1925.8 650.7 L1928.0 681.1 L1930.0 660.5 L1931.6 692.9 L1933.4 657.0 L1935.6 676.3 L1937.6 665.5 L1939.5 689.0 L1941.1 662.6 L1942.9 685.9 L1944.7 648.0 L1946.8 673.4 L1949.0 652.3 L1951.2 682.7 L1953.4 663.9 L1955.3 683.6 L1957.4 653.4 L1959.5 689.9 L1961.2 637.8 L1963.2 677.6 L1964.8 636.4 L1967.0 653.5 L1969.0 613.3 L1971.3 662.8 L1973.2 643.3 L1975.1 679.5 L1977.0 641.6 L1979.2 687.0 L1981.1 647.9 L1982.7 687.0 L1984.8 668.0 L1987.0 692.5 L1988.6 650.1 L1990.1 693.6 L1991.8 667.8 L1994.0 701.1 L1995.7 672.9 L1997.5 699.4 L1999.4 654.8 L2001.6 684.9 L2003.7 643.2 L2005.8 676.4 L2007.7 640.5 L2009.3 647.2 L2011.2 608.6" stroke="#ff0000" stroke-width="2.8"/>
<path d="M1334.2 671.9 L1338.7 682.6 L1346.4 661.2 L1350.2 688.7 L1354.8 670.4 L1360.1 691.8 L1364.7 673.5 L1369.2 684.1 L1376.9 670.4 L1381.5 682.6 L1389.1 652.1 L1396.7 691.8 L1402.8 678.0 L1407.4 658.2 L1412.7 679.6 L1417.3 691.8 L1425.7 658.2 L1430.3 659.7 L1434.9 693.3 L1439.4 678.0 L1445.5 691.8 L1453.9 630.7 L1459.3 702.4 L1466.9 673.5 L1474.5 675.0 L1479.1 702.4 L1488.3 664.3 L1495.1 687.2 L1501.2 649.0 L1506.6 685.7 L1515.7 671.9 L1521.8 630.7 L1526.4 705.5 L1529.5 661.2 L1537.1 656.7 L1540.1 678.0 L1542.4 630.7 L1546.2 668.9 L1553.9 650.6 L1558.5 630.7 L1563.0 623.1 L1566.1 642.9 L1569.1 600.2 L1574.8 607.0 L1579.4 617.7 L1587.0 660.4 L1592.4 649.7 L1596.2 616.1 L1600.8 658.8 L1606.1 661.9 L1611.5 616.1 L1616.0 610.0 L1618.3 567.3 L1621.4 674.1 L1626.0 607.0 L1633.6 614.6 L1634.3 646.6 L1638.2 613.1 L1645.0 665.0 L1650.4 623.8 L1658.0 681.7 L1660.3 637.5 L1667.9 642.1 L1675.5 657.3 L1678.6 559.7 L1683.2 613.1 L1688.5 680.2 L1692.3 617.7 L1696.9 657.3 L1702.2 613.1 L1706.1 657.3 L1712.2 625.3 L1714.4 674.1 L1722.8 605.4 L1725.1 680.2 L1728.9 617.7 L1734.3 701.6 L1738.9 639.0 L1741.9 677.2 L1745.0 625.3 L1748.8 671.1 L1752.6 616.1 L1757.9 661.9 L1764.0 645.1 L1767.9 683.3 L1770.9 649.7 L1773.2 686.3 L1776.2 660.4 L1783.1 687.8 L1788.5 634.4 L1796.8 625.3 L1802.2 672.6 L1806.8 701.6 L1812.5 659.9 L1816.6 716.6 L1822.0 630.2 L1827.4 646.4 L1836.8 707.1 L1842.2 709.8 L1844.9 651.8 L1851.7 647.7 L1858.4 739.5 L1866.5 614.0 L1871.9 666.6 L1877.3 616.7 L1880.0 618.0 L1884.8 708.5 L1892.2 627.5 L1898.3 623.4 L1903.0 695.0 L1907.0 704.4 L1910.4 678.8 L1913.1 716.6 L1920.5 655.8 L1924.6 684.2 L1931.3 608.6 L1934.0 705.8 L1940.8 662.6 L1943.5 696.3 L1947.5 624.8 L1952.9 659.9 L1958.3 724.7 L1961.0 611.3 L1965.7 588.3 L1969.1 689.6 L1971.8 641.0 L1975.9 611.3 L1978.6 735.5 L1982.6 624.8 L1986.7 692.3 L1989.4 661.2 L1992.1 716.6 L1994.8 619.4 L1998.8 711.2 L2002.9 681.5 L2011.0 581.6 L2012.6 681.5" stroke="#ff0000" stroke-width="4.8"/>
<path d="M1155.3 729.0 L1156.3 729.0 L1157.3 729.0 L1158.3 729.0 L1159.3 729.0 L1160.3 729.1 L1161.3 729.1 L1162.3 729.1 L1163.3 729.1 L1164.3 729.1 L1165.3 729.1 L1166.3 729.1 L1167.3 729.1 L1168.3 729.2 L1169.3 729.2 L1170.3 729.2 L1171.3 729.2 L1172.3 729.2 L1173.3 729.2 L1174.3 729.2 L1175.3 729.2 L1176.3 729.2 L1177.3 729.3 L1178.3 729.3 L1179.3 729.3 L1180.3 729.3 L1181.3 729.3 L1182.3 729.3 L1183.3 729.3 L1184.3 729.2 L1185.3 729.2 L1186.3 729.1 L1187.3 729.1 L1188.3 728.9 L1189.3 728.8 L1190.3 728.5 L1191.3 728.2 L1192.3 727.8 L1193.3 727.2 L1194.3 726.5 L1195.3 725.5 L1196.3 724.3 L1197.3 722.7 L1198.3 720.7 L1199.3 718.1 L1200.3 714.9 L1201.3 711.0 L1202.3 706.2 L1203.3 700.4 L1204.3 693.4 L1205.3 685.1 L1206.3 675.3 L1207.3 663.9 L1208.3 650.6 L1209.3 635.5 L1210.3 618.2 L1211.3 598.9 L1212.3 577.4 L1213.3 553.7 L1214.3 528.0 L1215.3 500.2 L1216.3 470.7 L1217.3 439.7 L1218.3 407.5 L1219.3 374.5 L1220.3 341.2 L1221.3 308.1 L1222.3 275.7 L1223.3 244.7 L1224.3 215.5 L1225.3 188.9 L1226.3 165.3 L1227.3 145.3 L1228.3 129.3 L1229.3 117.7 L1230.3 110.7 L1231.3 108.5 L1232.3 111.2 L1233.3 118.7 L1234.3 130.8 L1235.3 147.2 L1236.3 167.6 L1237.3 191.6 L1238.3 218.5 L1239.3 247.9 L1240.3 279.1 L1241.3 311.6 L1242.3 344.8 L1243.3 378.1 L1244.3 411.1 L1245.3 443.2 L1246.3 474.1 L1247.3 503.5 L1248.3 531.0 L1249.3 556.6 L1250.3 580.1 L1251.3 601.4 L1252.3 620.6 L1253.3 637.6 L1254.3 652.6 L1255.3 665.7 L1256.3 677.0 L1257.3 686.6 L1258.3 694.8 L1259.3 701.7 L1260.3 707.4 L1261.3 712.2 L1262.3 716.0 L1263.3 719.2 L1264.3 721.7 L1265.3 723.7 L1266.3 725.3 L1267.3 726.5 L1268.3 727.5 L1269.3 728.2 L1270.3 728.8 L1271.3 729.2 L1272.3 729.6 L1273.3 729.8 L1274.3 730.0 L1275.3 730.1 L1276.3 730.2 L1277.3 730.3 L1278.3 730.4 L1279.3 730.4 L1280.3 730.4 L1281.3 730.5 L1282.3 730.5 L1283.3 730.5 L1284.3 730.5 L1285.3 730.6 L1286.3 730.6 L1287.3 730.6 L1288.3 730.6 L1289.3 730.6 L1290.3 730.6 L1291.3 730.6 L1292.3 730.6 L1293.3 730.7 L1294.3 730.7 L1295.3 730.7 L1296.3 730.7 L1297.3 730.7 L1298.3 730.7 L1299.3 730.7 L1300.3 730.7 L1301.3 730.8 L1302.3 730.8 L1303.3 730.8 L1304.3 730.8 L1305.3 730.8 L1306.3 730.8 L1307.3 730.8 L1308.3 730.8 L1309.3 730.8 L1310.3 730.9 L1311.3 730.9 L1312.3 730.9 L1313.3 730.9 L1314.3 730.9" stroke="#000" stroke-width="6.2"/>
<path d="M1332.8 730.1 H2012.9" stroke="#000" stroke-width="9.8" stroke-linecap="butt"/>
</g>
</g>
<g id="panel-c">
<rect x="197.75" y="796.00" width="857.55" height="690.00" fill="none" stroke="#000" stroke-width="7.7" stroke-linejoin="round"/>
<path d="M197.75 796.00 V1486.00 M1055.30 796.00 V1486.00" fill="none" stroke="#000" stroke-width="8.7"/>
<path d="M238.4 796.0 V808.2 M238.4 1486.0 V1473.8 M280.0 796.0 V820.2 M280.0 1486.0 V1461.8 M320.8 796.0 V808.2 M320.8 1486.0 V1473.8 M402.5 796.0 V820.2 M402.5 1486.0 V1461.8 M467.8 796.0 V808.2 M467.8 1486.0 V1473.8 M533.1 796.0 V820.2 M533.1 1486.0 V1461.8 M598.3 796.0 V808.2 M598.3 1486.0 V1473.8 M663.6 796.0 V820.2 M663.6 1486.0 V1461.8 M728.9 796.0 V808.2 M728.9 1486.0 V1473.8 M794.2 796.0 V820.2 M794.2 1486.0 V1461.8 M859.5 796.0 V808.2 M859.5 1486.0 V1473.8 M924.7 796.0 V820.2 M924.7 1486.0 V1461.8 M990.0 796.0 V808.2 M990.0 1486.0 V1473.8" fill="none" stroke="#000" stroke-width="7.6" stroke-linecap="round"/>
<path d="M369.4 773.0 L355.4 820.0 M384.2 773.0 L370.2 820.0 M369.4 1463.0 L355.4 1510.0 M384.2 1463.0 L370.2 1510.0" fill="none" stroke="#000" stroke-width="8" stroke-linecap="round"/>
<g clip-path="url(#cpc)" fill="none" stroke-linejoin="round" stroke-linecap="round">
<path d="M197.8 1459.0 L198.8 1459.0 L199.8 1459.0 L200.8 1459.0 L201.8 1459.0 L202.8 1459.1 L203.8 1459.1 L204.8 1459.1 L205.8 1459.1 L206.8 1459.1 L207.8 1459.1 L208.8 1459.1 L209.8 1459.1 L210.8 1459.2 L211.8 1459.2 L212.8 1459.2 L213.8 1459.2 L214.8 1459.2 L215.8 1459.2 L216.8 1459.2 L217.8 1459.2 L218.8 1459.2 L219.8 1459.3 L220.8 1459.3 L221.8 1459.3 L222.8 1459.3 L223.8 1459.3 L224.8 1459.3 L225.8 1459.3 L226.8 1459.3 L227.8 1459.2 L228.8 1459.2 L229.8 1459.1 L230.8 1459.1 L231.8 1458.9 L232.8 1458.8 L233.8 1458.5 L234.8 1458.2 L235.8 1457.8 L236.8 1457.2 L237.8 1456.5 L238.8 1455.6 L239.8 1454.4 L240.8 1452.8 L241.8 1450.9 L242.8 1448.5 L243.8 1445.5 L244.8 1441.9 L245.8 1437.5 L246.8 1432.2 L247.8 1426.0 L248.8 1418.5 L249.8 1409.9 L250.8 1399.9 L251.8 1388.4 L252.8 1375.4 L253.8 1360.8 L254.8 1344.5 L255.8 1326.6 L256.8 1307.1 L257.8 1286.2 L258.8 1263.8 L259.8 1240.4 L260.8 1216.0 L261.8 1191.1 L262.8 1165.9 L263.8 1140.8 L264.8 1116.3 L265.8 1092.9 L266.8 1070.8 L267.8 1050.7 L268.8 1032.9 L269.8 1017.7 L270.8 1005.6 L271.8 996.8 L272.8 991.6 L273.8 989.9 L274.8 991.9 L275.8 997.6 L276.8 1006.8 L277.8 1019.2 L278.8 1034.6 L279.8 1052.7 L280.8 1073.1 L281.8 1095.3 L282.8 1119.0 L283.8 1143.6 L284.8 1168.7 L285.8 1193.9 L286.8 1218.8 L287.8 1243.1 L288.8 1266.5 L289.8 1288.7 L290.8 1309.5 L291.8 1328.9 L292.8 1346.7 L293.8 1362.8 L294.8 1377.3 L295.8 1390.1 L296.8 1401.5 L297.8 1411.4 L298.8 1419.9 L299.8 1427.3 L300.8 1433.5 L301.8 1438.7 L302.8 1443.0 L303.8 1446.6 L304.8 1449.5 L305.8 1451.9 L306.8 1453.8 L307.8 1455.3 L308.8 1456.5 L309.8 1457.4 L310.8 1458.2 L311.8 1458.7 L312.8 1459.2 L313.8 1459.5 L314.8 1459.8 L315.8 1460.0 L316.8 1460.1 L317.8 1460.2 L318.8 1460.3 L319.8 1460.3 L320.8 1460.4 L321.8 1460.4 L322.8 1460.5 L323.8 1460.5 L324.8 1460.5 L325.8 1460.5 L326.8 1460.5 L327.8 1460.6 L328.8 1460.6 L329.8 1460.6 L330.8 1460.6 L331.8 1460.6 L332.8 1460.6 L333.8 1460.6 L334.8 1460.6 L335.8 1460.7 L336.8 1460.7 L337.8 1460.7 L338.8 1460.7 L339.8 1460.7 L340.8 1460.7 L341.8 1460.7 L342.8 1460.7 L343.8 1460.8 L344.8 1460.8 L345.8 1460.8 L346.8 1460.8 L347.8 1460.8 L348.8 1460.8 L349.8 1460.8 L350.8 1460.8 L351.8 1460.8 L352.8 1460.9 L353.8 1460.9 L354.8 1460.9 L355.8 1460.9 L356.8 1460.9" stroke="#0000ff" stroke-width="7"/>
<path d="M197.8 1459.0 L198.8 1459.0 L199.8 1459.0 L200.8 1459.0 L201.8 1459.0 L202.8 1459.1 L203.8 1459.1 L204.8 1459.1 L205.8 1459.1 L206.8 1459.1 L207.8 1459.1 L208.8 1459.1 L209.8 1459.1 L210.8 1459.2 L211.8 1459.2 L212.8 1459.2 L213.8 1459.2 L214.8 1459.2 L215.8 1459.2 L216.8 1459.2 L217.8 1459.2 L218.8 1459.2 L219.8 1459.3 L220.8 1459.3 L221.8 1459.3 L222.8 1459.3 L223.8 1459.3 L224.8 1459.3 L225.8 1459.3 L226.8 1459.2 L227.8 1459.2 L228.8 1459.2 L229.8 1459.1 L230.8 1459.0 L231.8 1458.9 L232.8 1458.7 L233.8 1458.4 L234.8 1458.1 L235.8 1457.6 L236.8 1457.0 L237.8 1456.2 L238.8 1455.1 L239.8 1453.8 L240.8 1452.1 L241.8 1450.0 L242.8 1447.4 L243.8 1444.1 L244.8 1440.2 L245.8 1435.3 L246.8 1429.5 L247.8 1422.6 L248.8 1414.4 L249.8 1404.8 L250.8 1393.7 L251.8 1380.9 L252.8 1366.2 L253.8 1349.7 L254.8 1331.1 L255.8 1310.6 L256.8 1288.1 L257.8 1263.6 L258.8 1237.3 L259.8 1209.3 L260.8 1179.9 L261.8 1149.3 L262.8 1118.0 L263.8 1086.3 L264.8 1054.6 L265.8 1023.5 L266.8 993.5 L267.8 965.1 L268.8 938.9 L269.8 915.4 L270.8 895.0 L271.8 878.2 L272.8 865.3 L273.8 856.6 L274.8 852.4 L275.8 852.6 L276.8 857.4 L277.8 866.5 L278.8 879.8 L279.8 897.0 L280.8 917.8 L281.8 941.6 L282.8 968.1 L283.8 996.7 L284.8 1026.8 L285.8 1058.0 L286.8 1089.7 L287.8 1121.4 L288.8 1152.8 L289.8 1183.2 L290.8 1212.5 L291.8 1240.4 L292.8 1266.6 L293.8 1290.9 L294.8 1313.2 L295.8 1333.6 L296.8 1351.9 L297.8 1368.3 L298.8 1382.8 L299.8 1395.5 L300.8 1406.5 L301.8 1416.0 L302.8 1424.0 L303.8 1430.9 L304.8 1436.6 L305.8 1441.3 L306.8 1445.3 L307.8 1448.5 L308.8 1451.1 L309.8 1453.1 L310.8 1454.8 L311.8 1456.1 L312.8 1457.2 L313.8 1458.0 L314.8 1458.6 L315.8 1459.1 L316.8 1459.4 L317.8 1459.7 L318.8 1459.9 L319.8 1460.1 L320.8 1460.2 L321.8 1460.3 L322.8 1460.4 L323.8 1460.4 L324.8 1460.5 L325.8 1460.5 L326.8 1460.5 L327.8 1460.5 L328.8 1460.6 L329.8 1460.6 L330.8 1460.6 L331.8 1460.6 L332.8 1460.6 L333.8 1460.6 L334.8 1460.6 L335.8 1460.7 L336.8 1460.7 L337.8 1460.7 L338.8 1460.7 L339.8 1460.7 L340.8 1460.7 L341.8 1460.7 L342.8 1460.7 L343.8 1460.8 L344.8 1460.8 L345.8 1460.8 L346.8 1460.8 L347.8 1460.8 L348.8 1460.8 L349.8 1460.8 L350.8 1460.8 L351.8 1460.8 L352.8 1460.9 L353.8 1460.9 L354.8 1460.9 L355.8 1460.9 L356.8 1460.9" stroke="#ff0000" stroke-width="7.6"/>
<path d="M376.9 1382.3 L379.1 1369.5 L380.8 1377.7 L382.4 1371.6 L384.5 1379.9 L386.1 1368.6 L388.3 1384.4 L390.4 1368.5 L392.4 1387.4 L394.0 1370.8 L395.9 1398.2 L397.8 1380.3 L399.4 1420.3 L401.4 1396.7 L403.3 1409.8 L405.0 1394.5 L406.8 1414.4 L408.9 1400.3 L410.5 1411.6 L412.6 1394.8 L414.7 1400.5 L416.3 1379.3 L418.4 1401.0 L419.9 1375.7 L421.7 1400.6 L423.2 1371.0 L425.3 1403.8 L426.9 1360.2 L428.8 1396.4 L430.6 1361.0 L432.2 1382.9 L434.0 1349.6 L436.0 1365.7 L438.0 1347.7 L440.2 1371.7 L442.1 1354.9 L444.1 1372.7 L446.2 1358.4 L447.9 1364.8 L449.9 1339.2 L452.1 1341.3 L454.4 1319.5 L456.1 1331.9 L457.7 1308.6 L459.7 1315.8 L461.7 1299.8 L463.5 1321.5 L465.1 1305.1 L466.9 1322.8 L468.8 1310.4 L470.9 1317.5 L472.6 1303.8 L474.8 1310.9 L477.1 1285.2 L479.0 1288.8 L480.6 1272.4 L482.3 1276.4 L484.2 1262.3 L486.3 1271.1 L488.4 1254.0 L490.0 1264.4 L491.7 1252.1 L493.4 1252.7 L495.6 1239.8 L497.8 1260.6 L499.7 1227.1 L501.6 1254.7 L503.8 1225.5 L505.8 1237.4 L507.9 1208.2 L509.6 1229.5 L511.7 1194.0 L513.7 1215.7 L515.9 1203.2 L517.5 1217.2 L519.3 1191.0 L521.0 1218.3 L523.0 1200.3 L525.2 1220.7 L526.8 1197.0 L528.5 1213.2 L530.2 1199.0 L531.9 1206.7 L533.7 1192.7 L535.7 1192.0 L537.6 1155.7 L539.7 1177.3 L541.5 1144.4 L543.7 1175.9 L545.3 1148.9 L547.0 1166.9 L548.6 1130.4 L550.3 1166.7 L552.2 1143.2 L554.4 1194.2 L556.7 1155.8 L558.4 1172.6 L560.5 1128.8 L562.4 1169.4 L564.1 1138.4 L566.0 1155.0 L567.7 1116.3 L569.5 1129.1 L571.5 1111.2 L573.4 1115.9 L575.3 1091.0 L576.9 1107.4 L578.7 1088.7 L580.6 1114.3 L582.7 1086.1 L584.8 1120.3 L586.9 1101.1 L589.0 1128.5 L590.8 1117.3 L592.4 1127.1 L594.2 1113.3 L595.7 1130.6 L597.4 1115.8 L599.3 1118.8 L601.0 1095.3 L603.0 1101.6 L604.7 1078.0 L606.2 1103.0 L608.1 1070.4 L609.7 1094.0 L611.5 1078.8 L613.5 1094.2 L615.6 1073.0 L617.8 1098.0 L619.4 1096.4 L621.6 1116.6 L623.4 1096.5 L625.7 1116.6 L627.9 1083.6 L629.9 1110.4 L631.7 1082.5 L633.7 1091.2 L635.5 1073.3 L637.1 1090.2 L639.0 1055.4 L640.6 1089.3 L642.5 1075.0 L644.4 1122.6 L646.0 1101.9 L648.0 1121.9 L649.7 1090.6 L651.5 1124.4 L653.1 1102.8 L654.9 1122.9 L656.5 1094.4 L658.2 1128.6 L660.2 1086.8 L662.2 1111.5 L663.8 1083.1 L666.0 1118.9 L667.9 1110.2 L669.5 1123.7 L671.6 1111.3 L673.8 1138.0 L675.8 1120.5 L678.0 1128.9 L679.8 1109.3 L681.9 1133.5 L683.7 1105.4 L685.9 1120.4 L687.7 1097.7 L689.5 1128.0 L691.4 1097.4 L692.9 1128.0 L695.0 1111.8 L697.0 1135.0 L698.7 1121.1 L700.3 1148.6 L702.5 1108.2 L704.5 1152.7 L706.1 1102.3 L707.8 1141.3 L709.8 1122.9 L711.9 1169.4 L713.6 1122.4 L715.6 1163.2 L717.4 1134.0 L719.3 1172.5 L721.2 1149.6 L722.9 1177.2 L724.8 1148.4 L727.0 1155.8 L728.7 1129.0 L730.5 1149.6 L732.5 1127.5 L734.4 1159.5 L735.9 1133.2 L737.7 1162.0 L739.7 1137.9 L741.8 1186.7 L743.5 1153.9 L745.3 1195.5 L746.9 1171.8 L748.9 1187.3 L750.9 1173.2 L752.7 1190.3 L755.0 1176.1 L756.8 1192.5 L758.5 1180.3 L760.8 1195.3 L762.4 1166.1 L764.0 1184.6 L766.2 1168.2 L768.0 1196.9 L769.8 1171.3 L772.0 1206.2 L773.9 1175.3 L775.6 1214.7 L777.6 1199.7 L779.3 1223.1 L781.3 1192.8 L783.5 1230.8 L785.1 1210.5 L786.7 1237.4 L788.7 1201.7 L790.7 1240.3 L792.5 1211.3 L794.2 1265.1 L796.2 1236.7 L798.2 1253.8 L800.3 1237.7 L802.3 1257.9 L804.2 1242.4 L806.0 1253.3 L807.5 1239.2 L809.1 1248.1 L810.8 1239.8 L812.8 1256.4 L814.7 1244.2 L816.4 1259.3 L817.9 1242.0 L820.1 1250.7 L821.7 1233.7 L823.9 1239.5 L825.8 1212.1 L827.9 1251.5 L829.8 1232.9 L831.7 1268.0 L833.7 1238.8 L835.8 1297.8 L837.8 1269.3 L839.6 1307.3 L841.9 1266.2 L844.1 1287.3 L846.0 1231.5 L848.1 1268.1 L850.0 1236.3 L852.2 1284.7 L853.7 1241.8 L855.2 1315.5 L857.4 1261.6 L859.0 1327.4 L860.7 1286.1 L862.8 1328.9 L864.4 1270.0 L866.4 1325.3 L868.5 1273.3 L870.7 1308.7 L872.2 1281.6 L874.4 1328.4 L876.1 1309.9 L878.0 1355.3 L879.9 1320.3 L881.6 1336.6 L883.5 1313.8 L885.7 1345.6 L887.4 1315.1 L889.6 1327.8 L891.3 1308.0 L892.9 1318.6 L895.2 1316.1 L897.1 1345.4 L898.7 1324.2 L900.5 1356.3 L902.1 1315.9 L904.4 1343.3 L906.1 1313.6 L908.2 1340.2 L909.8 1302.1 L911.9 1324.3 L913.5 1308.8 L915.6 1345.1 L917.8 1325.5 L919.4 1348.5 L921.5 1336.5 L923.0 1357.8 L925.1 1344.6 L926.7 1371.7 L928.8 1342.9 L930.4 1367.7 L932.5 1339.3 L934.5 1359.8 L936.1 1340.0 L937.9 1338.7 L939.7 1319.5 L941.8 1325.5 L943.8 1305.9 L945.7 1327.2 L947.7 1308.1 L949.6 1345.5 L951.5 1323.0 L953.5 1353.7 L955.3 1335.1 L956.9 1369.7 L959.0 1338.6 L961.2 1351.7 L962.7 1331.8 L964.5 1340.0 L966.4 1308.6 L968.6 1342.0 L970.5 1303.9 L972.0 1345.0 L973.7 1310.9 L975.4 1356.3 L977.1 1311.9 L979.1 1351.0 L981.4 1325.0 L983.6 1365.1 L985.6 1355.4 L987.2 1391.6 L989.3 1359.1 L991.6 1397.2 L993.7 1343.7 L995.9 1380.7 L997.6 1350.0 L999.9 1377.8 L1001.6 1334.9 L1003.7 1353.1 L1005.3 1318.7 L1007.0 1367.0 L1008.9 1315.7 L1010.5 1348.0 L1012.3 1296.2 L1013.9 1340.9 L1015.8 1288.6 L1018.0 1348.1 L1019.9 1298.8 L1022.0 1337.8 L1024.1 1290.3 L1025.7 1309.9 L1027.4 1269.7 L1029.2 1284.8 L1031.0 1237.8 L1033.2 1250.3 L1035.3 1226.3 L1037.2 1254.1 L1039.1 1240.0 L1041.1 1291.3 L1043.1 1273.3 L1045.1 1321.2 L1047.3 1304.5 L1049.4 1338.3 L1051.4 1316.0 L1053.4 1352.4" stroke="#0000ff" stroke-width="2.8"/>
<path d="M376.9 1397.8 L381.4 1358.2 L385.3 1373.4 L391.4 1367.3 L394.4 1413.1 L397.5 1353.6 L402.8 1428.4 L408.1 1410.0 L412.7 1390.2 L415.8 1402.4 L420.4 1352.1 L424.9 1416.2 L429.5 1379.5 L433.3 1317.0 L437.9 1364.3 L441.7 1356.6 L444.8 1405.5 L447.1 1350.5 L452.4 1346.0 L457.7 1275.8 L461.5 1315.4 L465.4 1312.4 L469.9 1329.2 L476.8 1278.8 L479.9 1291.0 L482.9 1248.9 L486.7 1270.2 L492.1 1245.8 L495.1 1264.1 L498.9 1204.6 L503.5 1267.2 L507.3 1198.5 L511.1 1229.0 L515.0 1165.0 L520.3 1230.6 L524.1 1193.9 L527.9 1224.5 L530.2 1177.2 L534.8 1218.4 L537.8 1180.2 L543.9 1108.5 L549.3 1187.8 L555.4 1120.7 L560.0 1218.4 L564.5 1087.1 L567.6 1148.2 L572.9 1096.3 L575.2 1123.8 L579.8 1055.1 L585.1 1137.5 L588.2 1105.4 L592.8 1140.5 L598.1 1102.4 L601.9 1134.4 L603.5 1078.0 L608.0 1078.0 L611.1 1045.9 L614.1 1110.0 L619.5 1081.0 L624.0 1114.6 L626.7 1116.1 L629.0 1119.2 L632.0 1064.2 L637.4 1050.5 L640.4 1110.0 L643.5 1059.7 L651.1 1155.8 L656.5 1071.9 L661.0 1074.9 L663.3 1132.9 L666.4 1084.1 L670.2 1139.0 L674.0 1108.5 L678.6 1146.6 L684.7 1064.2 L688.5 1140.5 L692.3 1082.6 L697.7 1152.7 L700.7 1096.3 L705.3 1178.7 L708.3 1081.0 L712.1 1123.8 L716.0 1181.7 L720.5 1134.4 L728.2 1181.7 L732.0 1103.9 L737.3 1108.5 L739.6 1209.2 L744.2 1172.6 L749.5 1152.7 L754.9 1200.0 L760.2 1186.3 L767.1 1140.5 L770.9 1221.4 L776.2 1168.0 L781.6 1250.4 L786.2 1165.0 L790.0 1264.1 L793.8 1207.7 L798.4 1280.0 L802.9 1238.2 L812.1 1236.7 L816.7 1267.2 L821.2 1248.9 L828.1 1184.8 L837.3 1344.4 L841.1 1221.4 L844.9 1294.6 L848.7 1233.6 L854.2 1204.2 L856.9 1346.0 L862.3 1319.0 L867.7 1227.2 L871.7 1343.3 L875.1 1297.4 L877.1 1340.6 L879.8 1290.6 L883.2 1381.7 L887.2 1305.5 L892.6 1293.3 L898.0 1324.4 L902.1 1392.5 L906.1 1302.8 L910.9 1293.3 L915.6 1314.9 L919.6 1383.1 L922.3 1317.6 L926.4 1337.9 L931.8 1389.8 L934.5 1341.9 L941.2 1308.2 L944.6 1306.8 L948.7 1281.2 L951.4 1383.1 L956.1 1362.2 L962.2 1313.6 L968.2 1348.7 L972.3 1289.3 L976.3 1283.9 L979.7 1389.8 L987.1 1340.6 L990.5 1313.6 L992.5 1434.4 L999.3 1321.7 L1006.0 1360.0 L1009.4 1281.2 L1012.8 1414.1 L1016.1 1215.0 L1020.2 1366.2 L1027.6 1278.5 L1031.0 1212.3 L1037.1 1215.0 L1042.5 1278.5 L1046.5 1356.8 L1054.6 1298.7" stroke="#0000ff" stroke-width="4.8"/>
<path d="M376.9 1419.7 L379.1 1409.6 L380.7 1415.4 L382.7 1406.8 L384.7 1420.7 L386.5 1415.4 L388.7 1430.8 L390.2 1420.4 L391.9 1431.8 L393.6 1426.5 L395.3 1438.8 L397.2 1431.8 L399.1 1444.1 L401.2 1427.3 L402.9 1440.3 L404.5 1433.1 L406.2 1439.3 L408.2 1423.4 L410.0 1434.7 L411.8 1418.4 L413.5 1434.3 L415.2 1416.5 L417.4 1432.8 L419.5 1413.5 L421.3 1435.2 L423.5 1418.0 L425.3 1436.0 L427.3 1412.8 L429.3 1428.9 L430.9 1405.6 L432.5 1417.0 L434.3 1399.8 L436.4 1422.2 L438.2 1400.0 L440.1 1422.4 L441.8 1409.4 L443.9 1428.9 L446.2 1415.5 L448.3 1428.5 L449.9 1416.5 L451.4 1426.5 L453.6 1413.9 L455.1 1435.4 L457.1 1416.3 L459.0 1421.2 L461.2 1397.9 L462.9 1413.9 L464.6 1394.8 L466.8 1412.8 L468.9 1398.3 L470.4 1407.2 L472.6 1396.3 L474.8 1413.6 L476.9 1403.7 L478.6 1412.6 L480.9 1401.7 L482.7 1415.1 L484.4 1399.2 L485.9 1417.7 L487.5 1401.8 L489.2 1410.2 L491.4 1399.6 L493.0 1408.7 L494.6 1400.6 L496.5 1407.6 L498.4 1390.1 L500.1 1397.6 L502.0 1389.6 L503.8 1395.0 L505.8 1391.2 L507.5 1394.6 L509.4 1394.2 L511.1 1396.2 L512.9 1392.6 L514.8 1396.3 L516.9 1388.9 L518.6 1391.7 L520.9 1376.3 L523.0 1383.5 L524.9 1377.3 L527.0 1391.3 L528.7 1373.3 L530.5 1384.1 L532.4 1374.2 L534.0 1382.5 L536.0 1369.3 L538.1 1381.2 L540.0 1366.5 L541.9 1381.3 L543.5 1363.8 L545.6 1380.2 L547.6 1371.5 L549.5 1382.1 L551.1 1366.6 L553.3 1376.0 L555.1 1362.0 L557.3 1369.4 L559.0 1354.6 L561.3 1370.3 L563.5 1358.0 L565.5 1371.7 L567.6 1351.8 L569.4 1360.0 L571.6 1346.5 L573.9 1357.9 L575.7 1344.1 L577.6 1355.7 L579.2 1337.8 L581.0 1356.3 L583.3 1345.7 L585.0 1371.8 L586.8 1356.3 L588.8 1380.6 L590.8 1373.8 L592.9 1388.0 L594.5 1377.1 L596.5 1383.8 L598.7 1373.1 L600.3 1388.9 L602.0 1366.1 L604.1 1382.9 L606.1 1348.3 L608.0 1366.9 L610.0 1340.8 L611.6 1364.7 L613.3 1345.8 L614.9 1356.5 L617.0 1342.0 L618.6 1352.1 L620.4 1347.6 L621.9 1356.4 L623.7 1352.2 L625.5 1358.0 L627.4 1352.3 L629.6 1359.6 L631.5 1355.1 L633.6 1361.7 L635.7 1351.4 L637.5 1372.6 L639.2 1350.6 L641.5 1370.5 L643.7 1353.1 L645.8 1372.2 L648.0 1353.4 L650.3 1368.8 L652.4 1355.7 L654.2 1364.1 L656.0 1355.9 L658.0 1363.2 L659.9 1350.8 L662.1 1358.1 L664.3 1348.3 L665.9 1356.8 L667.6 1351.2 L669.4 1364.4 L670.9 1355.3 L672.5 1374.5 L674.2 1368.3 L676.2 1376.4 L678.4 1366.9 L680.4 1379.0 L682.3 1373.5 L684.3 1386.2 L686.3 1366.5 L688.0 1384.4 L690.1 1368.4 L692.0 1386.0 L694.0 1359.1 L696.2 1385.9 L698.0 1355.2 L700.2 1369.9 L701.8 1339.0 L703.4 1368.6 L705.3 1345.0 L707.2 1367.7 L709.1 1347.4 L711.1 1362.1 L712.7 1347.2 L714.4 1363.4 L716.0 1349.5 L717.7 1365.3 L719.7 1348.5 L721.3 1370.5 L723.6 1358.5 L725.8 1375.3 L727.3 1364.2 L729.6 1381.0 L731.4 1376.4 L733.0 1393.3 L734.6 1383.8 L736.2 1398.1 L738.3 1386.2 L740.1 1400.5 L741.9 1387.8 L743.6 1399.7 L745.6 1381.5 L747.3 1399.0 L749.3 1377.6 L751.6 1388.4 L753.8 1357.4 L755.8 1387.8 L758.0 1370.2 L759.8 1399.4 L761.8 1368.9 L763.7 1410.2 L765.7 1390.7 L767.8 1415.7 L769.6 1393.1 L771.4 1403.1 L773.7 1381.1 L775.3 1396.1 L777.0 1386.9 L779.0 1409.8 L781.0 1386.4 L783.0 1401.2 L785.2 1386.7 L786.8 1403.4 L789.1 1390.9 L790.9 1413.3 L792.7 1403.4 L794.8 1423.1 L796.4 1396.3 L798.5 1418.4 L800.2 1393.3 L802.3 1421.2 L804.2 1382.9 L806.0 1419.9 L807.6 1378.9 L809.4 1410.0 L811.2 1381.4 L813.3 1402.5 L815.5 1396.5 L817.2 1405.7 L819.1 1390.7 L821.1 1403.9 L823.2 1394.9 L825.1 1408.5 L826.8 1398.1 L828.9 1412.5 L830.7 1405.8 L832.8 1415.5 L835.0 1399.0 L836.6 1418.8 L838.3 1397.4 L840.1 1413.9 L841.8 1392.2 L843.4 1402.1 L845.6 1383.1 L847.3 1404.3 L849.4 1377.4 L851.0 1404.8 L852.8 1375.6 L854.7 1409.2 L856.6 1386.8 L858.4 1411.6 L860.4 1380.0 L862.1 1397.3 L863.9 1382.2 L866.1 1396.3 L868.4 1381.7 L870.4 1414.6 L872.6 1402.0 L874.4 1428.8 L876.5 1419.0 L878.3 1437.2 L880.3 1428.6 L882.2 1438.2 L884.1 1422.3 L886.2 1421.4 L888.4 1395.7 L890.5 1402.1 L892.2 1386.9 L894.3 1401.2 L896.1 1384.2 L898.2 1413.6 L899.9 1373.2 L901.9 1422.8 L903.6 1402.1 L905.6 1428.1 L907.4 1407.6 L909.4 1425.8 L911.1 1405.3 L913.2 1418.6 L915.4 1400.5 L917.5 1424.0 L919.3 1413.0 L921.3 1429.2 L923.4 1411.2 L925.0 1430.0 L926.7 1417.4 L928.7 1444.3 L930.8 1423.6 L933.1 1430.8 L935.3 1389.4 L937.5 1403.2 L939.2 1385.0 L940.8 1408.4 L942.6 1391.7 L944.5 1417.3 L946.4 1398.3 L948.6 1428.4 L950.3 1407.4 L952.1 1451.8 L954.2 1424.6 L956.4 1434.4 L958.0 1410.4 L959.8 1430.7 L961.4 1396.7 L963.6 1418.7 L965.6 1362.5 L967.9 1408.9 L969.7 1371.6 L971.3 1405.1 L973.4 1384.7 L975.5 1432.4 L977.8 1404.4 L979.5 1456.6 L981.2 1402.8 L982.9 1425.3 L984.5 1371.4 L986.5 1404.4 L988.3 1339.9 L990.5 1380.3 L992.6 1357.7 L994.7 1396.3 L996.4 1344.0 L998.0 1407.4 L1000.2 1377.0 L1001.8 1406.0 L1003.6 1385.7 L1005.5 1412.2 L1007.5 1369.0 L1009.4 1408.4 L1011.6 1389.8 L1013.3 1444.6 L1015.4 1377.9 L1017.5 1412.3 L1019.7 1353.7 L1021.4 1410.1 L1023.2 1317.8 L1025.3 1377.9 L1027.4 1295.5 L1029.4 1354.5 L1031.2 1315.4 L1033.1 1379.2 L1035.2 1314.5 L1037.0 1359.7 L1039.2 1305.3 L1040.8 1379.9 L1043.0 1319.8 L1045.0 1369.5 L1046.9 1341.7 L1048.8 1381.4 L1051.0 1355.8 L1053.2 1394.0" stroke="#ff0000" stroke-width="2.8"/>
<path d="M376.9 1408.5 L379.2 1397.8 L381.4 1425.3 L385.3 1408.5 L388.3 1408.5 L393.7 1446.7 L397.5 1422.3 L402.0 1449.7 L405.9 1420.7 L409.7 1442.1 L414.2 1408.5 L418.1 1402.4 L420.4 1440.6 L426.5 1434.5 L431.0 1397.8 L434.8 1387.2 L440.2 1436.0 L446.3 1405.5 L451.6 1442.1 L454.7 1402.4 L460.0 1439.0 L463.8 1391.7 L467.7 1384.1 L473.8 1416.2 L478.3 1417.7 L483.7 1384.1 L492.1 1428.4 L496.6 1382.6 L502.7 1393.3 L515.0 1396.3 L520.3 1391.7 L524.9 1356.6 L533.3 1399.4 L537.8 1358.2 L540.9 1358.2 L546.2 1394.8 L550.0 1367.3 L557.7 1355.1 L560.7 1379.5 L564.5 1346.0 L568.4 1373.4 L574.5 1336.8 L580.6 1330.7 L583.6 1379.5 L589.7 1361.2 L595.8 1390.2 L600.4 1388.7 L602.7 1342.9 L607.3 1379.5 L611.1 1321.5 L615.7 1356.6 L621.8 1342.9 L624.8 1358.2 L627.5 1358.2 L632.8 1362.7 L636.6 1339.9 L642.7 1385.6 L645.0 1335.3 L650.4 1362.7 L655.7 1371.9 L661.0 1342.9 L665.6 1341.4 L670.2 1375.0 L673.2 1352.1 L678.6 1391.7 L682.4 1356.6 L690.0 1397.8 L695.4 1336.8 L699.9 1385.6 L703.0 1329.2 L710.6 1370.4 L716.0 1352.1 L720.5 1329.2 L725.1 1388.7 L729.7 1368.8 L733.5 1371.9 L739.6 1416.2 L745.0 1371.9 L750.3 1396.3 L757.9 1335.3 L763.3 1443.6 L767.8 1365.8 L773.2 1417.7 L776.2 1382.6 L780.8 1371.9 L786.2 1419.2 L792.3 1381.1 L799.9 1439.0 L804.5 1352.1 L808.3 1413.1 L815.1 1382.6 L820.5 1413.1 L825.1 1384.1 L835.7 1431.4 L838.8 1385.6 L844.1 1405.5 L848.7 1347.5 L851.8 1416.2 L852.1 1414.2 L856.2 1377.7 L859.6 1420.9 L865.0 1356.1 L869.0 1371.0 L873.1 1426.3 L877.8 1445.2 L884.5 1425.0 L889.9 1404.7 L894.7 1339.9 L900.7 1434.4 L906.8 1384.5 L911.5 1433.1 L918.3 1387.2 L923.7 1435.8 L927.1 1454.7 L929.1 1415.5 L934.5 1426.3 L940.6 1348.0 L944.6 1392.6 L948.0 1472.2 L952.0 1398.0 L956.1 1450.6 L960.1 1400.7 L962.8 1452.0 L964.2 1357.5 L971.6 1349.4 L975.0 1438.5 L979.7 1485.7 L984.4 1349.4 L992.5 1329.1 L995.2 1377.7 L999.9 1442.5 L1002.6 1319.7 L1007.4 1411.5 L1013.4 1381.8 L1018.8 1466.8 L1022.2 1285.3 L1028.3 1269.1 L1034.4 1430.4 L1040.4 1244.8 L1046.5 1414.2 L1052.6 1331.2 L1054.6 1406.1" stroke="#ff0000" stroke-width="4.8"/>
<path d="M197.8 1459.0 L198.8 1459.0 L199.8 1459.0 L200.8 1459.0 L201.8 1459.0 L202.8 1459.1 L203.8 1459.1 L204.8 1459.1 L205.8 1459.1 L206.8 1459.1 L207.8 1459.1 L208.8 1459.1 L209.8 1459.1 L210.8 1459.2 L211.8 1459.2 L212.8 1459.2 L213.8 1459.2 L214.8 1459.2 L215.8 1459.2 L216.8 1459.2 L217.8 1459.2 L218.8 1459.2 L219.8 1459.3 L220.8 1459.3 L221.8 1459.3 L222.8 1459.3 L223.8 1459.3 L224.8 1459.3 L225.8 1459.3 L226.8 1459.2 L227.8 1459.2 L228.8 1459.1 L229.8 1459.1 L230.8 1458.9 L231.8 1458.8 L232.8 1458.5 L233.8 1458.2 L234.8 1457.8 L235.8 1457.2 L236.8 1456.5 L237.8 1455.5 L238.8 1454.3 L239.8 1452.7 L240.8 1450.7 L241.8 1448.1 L242.8 1444.9 L243.8 1441.0 L244.8 1436.2 L245.8 1430.4 L246.8 1423.4 L247.8 1415.1 L248.8 1405.3 L249.8 1393.8 L250.8 1380.6 L251.8 1365.4 L252.8 1348.1 L253.8 1328.8 L254.8 1307.2 L255.8 1283.6 L256.8 1257.8 L257.8 1230.0 L258.8 1200.5 L259.8 1169.4 L260.8 1137.2 L261.8 1104.2 L262.8 1070.8 L263.8 1037.7 L264.8 1005.3 L265.8 974.2 L266.8 945.0 L267.8 918.4 L268.8 894.8 L269.8 874.7 L270.8 858.7 L271.8 847.1 L272.8 840.1 L273.8 837.9 L274.8 840.6 L275.8 848.1 L276.8 860.2 L277.8 876.7 L278.8 897.1 L279.8 921.0 L280.8 948.0 L281.8 977.4 L282.8 1008.7 L283.8 1041.2 L284.8 1074.4 L285.8 1107.8 L286.8 1140.8 L287.8 1172.9 L288.8 1203.9 L289.8 1233.3 L290.8 1260.9 L291.8 1286.5 L292.8 1309.9 L293.8 1331.3 L294.8 1350.5 L295.8 1367.5 L296.8 1382.5 L297.8 1395.6 L298.8 1406.9 L299.8 1416.6 L300.8 1424.8 L301.8 1431.7 L302.8 1437.4 L303.8 1442.2 L304.8 1446.0 L305.8 1449.2 L306.8 1451.7 L307.8 1453.7 L308.8 1455.3 L309.8 1456.5 L310.8 1457.5 L311.8 1458.2 L312.8 1458.8 L313.8 1459.2 L314.8 1459.6 L315.8 1459.8 L316.8 1460.0 L317.8 1460.1 L318.8 1460.2 L319.8 1460.3 L320.8 1460.4 L321.8 1460.4 L322.8 1460.4 L323.8 1460.5 L324.8 1460.5 L325.8 1460.5 L326.8 1460.5 L327.8 1460.6 L328.8 1460.6 L329.8 1460.6 L330.8 1460.6 L331.8 1460.6 L332.8 1460.6 L333.8 1460.6 L334.8 1460.6 L335.8 1460.7 L336.8 1460.7 L337.8 1460.7 L338.8 1460.7 L339.8 1460.7 L340.8 1460.7 L341.8 1460.7 L342.8 1460.7 L343.8 1460.8 L344.8 1460.8 L345.8 1460.8 L346.8 1460.8 L347.8 1460.8 L348.8 1460.8 L349.8 1460.8 L350.8 1460.8 L351.8 1460.8 L352.8 1460.9 L353.8 1460.9 L354.8 1460.9 L355.8 1460.9 L356.8 1460.9" stroke="#000" stroke-width="6.2"/>
<path d="M375.2 1460.1 H1055.3" stroke="#000" stroke-width="9.8" stroke-linecap="butt"/>
</g>
</g>
<g id="panel-d">
<rect x="1155.30" y="796.00" width="857.60" height="690.00" fill="none" stroke="#000" stroke-width="7.7" stroke-linejoin="round"/>
<path d="M1155.30 796.00 V1486.00 M2012.90 796.00 V1486.00" fill="none" stroke="#000" stroke-width="8.7"/>
<path d="M1196.0 796.0 V808.2 M1196.0 1486.0 V1473.8 M1237.5 796.0 V820.2 M1237.5 1486.0 V1461.8 M1278.3 796.0 V808.2 M1278.3 1486.0 V1473.8 M1360.0 796.0 V820.2 M1360.0 1486.0 V1461.8 M1425.3 796.0 V808.2 M1425.3 1486.0 V1473.8 M1490.6 796.0 V820.2 M1490.6 1486.0 V1461.8 M1555.9 796.0 V808.2 M1555.9 1486.0 V1473.8 M1621.2 796.0 V820.2 M1621.2 1486.0 V1461.8 M1686.4 796.0 V808.2 M1686.4 1486.0 V1473.8 M1751.7 796.0 V820.2 M1751.7 1486.0 V1461.8 M1817.0 796.0 V808.2 M1817.0 1486.0 V1473.8 M1882.3 796.0 V820.2 M1882.3 1486.0 V1461.8 M1947.6 796.0 V808.2 M1947.6 1486.0 V1473.8" fill="none" stroke="#000" stroke-width="7.6" stroke-linecap="round"/>
<path d="M1326.9 773.0 L1312.9 820.0 M1341.7 773.0 L1327.7 820.0 M1326.9 1463.0 L1312.9 1510.0 M1341.7 1463.0 L1327.7 1510.0" fill="none" stroke="#000" stroke-width="8" stroke-linecap="round"/>
<g clip-path="url(#cpd)" fill="none" stroke-linejoin="round" stroke-linecap="round">
<path d="M1155.3 1459.0 L1156.3 1459.0 L1157.3 1459.0 L1158.3 1459.0 L1159.3 1459.0 L1160.3 1459.1 L1161.3 1459.1 L1162.3 1459.1 L1163.3 1459.1 L1164.3 1459.1 L1165.3 1459.1 L1166.3 1459.1 L1167.3 1459.1 L1168.3 1459.2 L1169.3 1459.2 L1170.3 1459.2 L1171.3 1459.2 L1172.3 1459.2 L1173.3 1459.2 L1174.3 1459.2 L1175.3 1459.2 L1176.3 1459.2 L1177.3 1459.3 L1178.3 1459.3 L1179.3 1459.3 L1180.3 1459.3 L1181.3 1459.3 L1182.3 1459.3 L1183.3 1459.3 L1184.3 1459.3 L1185.3 1459.2 L1186.3 1459.2 L1187.3 1459.2 L1188.3 1459.1 L1189.3 1459.0 L1190.3 1458.8 L1191.3 1458.6 L1192.3 1458.3 L1193.3 1457.9 L1194.3 1457.4 L1195.3 1456.7 L1196.3 1455.9 L1197.3 1454.7 L1198.3 1453.3 L1199.3 1451.5 L1200.3 1449.3 L1201.3 1446.6 L1202.3 1443.2 L1203.3 1439.2 L1204.3 1434.3 L1205.3 1428.5 L1206.3 1421.6 L1207.3 1413.6 L1208.3 1404.3 L1209.3 1393.7 L1210.3 1381.7 L1211.3 1368.1 L1212.3 1353.1 L1213.3 1336.5 L1214.3 1318.5 L1215.3 1299.1 L1216.3 1278.4 L1217.3 1256.7 L1218.3 1234.2 L1219.3 1211.1 L1220.3 1187.8 L1221.3 1164.6 L1222.3 1141.9 L1223.3 1120.2 L1224.3 1099.8 L1225.3 1081.1 L1226.3 1064.6 L1227.3 1050.6 L1228.3 1039.4 L1229.3 1031.3 L1230.3 1026.4 L1231.3 1024.9 L1232.3 1026.8 L1233.3 1032.0 L1234.3 1040.5 L1235.3 1052.0 L1236.3 1066.3 L1237.3 1083.1 L1238.3 1101.9 L1239.3 1122.5 L1240.3 1144.4 L1241.3 1167.1 L1242.3 1190.4 L1243.3 1213.7 L1244.3 1236.8 L1245.3 1259.3 L1246.3 1280.9 L1247.3 1301.5 L1248.3 1320.8 L1249.3 1338.7 L1250.3 1355.1 L1251.3 1370.0 L1252.3 1383.4 L1253.3 1395.4 L1254.3 1405.9 L1255.3 1415.0 L1256.3 1422.9 L1257.3 1429.7 L1258.3 1435.5 L1259.3 1440.3 L1260.3 1444.3 L1261.3 1447.6 L1262.3 1450.3 L1263.3 1452.5 L1264.3 1454.3 L1265.3 1455.7 L1266.3 1456.8 L1267.3 1457.7 L1268.3 1458.3 L1269.3 1458.9 L1270.3 1459.3 L1271.3 1459.6 L1272.3 1459.8 L1273.3 1460.0 L1274.3 1460.1 L1275.3 1460.2 L1276.3 1460.3 L1277.3 1460.4 L1278.3 1460.4 L1279.3 1460.4 L1280.3 1460.5 L1281.3 1460.5 L1282.3 1460.5 L1283.3 1460.5 L1284.3 1460.5 L1285.3 1460.6 L1286.3 1460.6 L1287.3 1460.6 L1288.3 1460.6 L1289.3 1460.6 L1290.3 1460.6 L1291.3 1460.6 L1292.3 1460.6 L1293.3 1460.7 L1294.3 1460.7 L1295.3 1460.7 L1296.3 1460.7 L1297.3 1460.7 L1298.3 1460.7 L1299.3 1460.7 L1300.3 1460.7 L1301.3 1460.8 L1302.3 1460.8 L1303.3 1460.8 L1304.3 1460.8 L1305.3 1460.8 L1306.3 1460.8 L1307.3 1460.8 L1308.3 1460.8 L1309.3 1460.8 L1310.3 1460.9 L1311.3 1460.9 L1312.3 1460.9 L1313.3 1460.9 L1314.3 1460.9" stroke="#0000ff" stroke-width="7"/>
<path d="M1155.3 1459.0 L1156.3 1459.0 L1157.3 1459.0 L1158.3 1459.0 L1159.3 1459.0 L1160.3 1459.1 L1161.3 1459.1 L1162.3 1459.1 L1163.3 1459.1 L1164.3 1459.1 L1165.3 1459.1 L1166.3 1459.1 L1167.3 1459.1 L1168.3 1459.2 L1169.3 1459.2 L1170.3 1459.2 L1171.3 1459.2 L1172.3 1459.2 L1173.3 1459.2 L1174.3 1459.2 L1175.3 1459.2 L1176.3 1459.2 L1177.3 1459.3 L1178.3 1459.3 L1179.3 1459.3 L1180.3 1459.3 L1181.3 1459.3 L1182.3 1459.2 L1183.3 1459.2 L1184.3 1459.2 L1185.3 1459.1 L1186.3 1459.0 L1187.3 1458.9 L1188.3 1458.8 L1189.3 1458.6 L1190.3 1458.3 L1191.3 1457.9 L1192.3 1457.4 L1193.3 1456.7 L1194.3 1455.8 L1195.3 1454.7 L1196.3 1453.2 L1197.3 1451.4 L1198.3 1449.1 L1199.3 1446.3 L1200.3 1442.8 L1201.3 1438.6 L1202.3 1433.5 L1203.3 1427.4 L1204.3 1420.1 L1205.3 1411.5 L1206.3 1401.5 L1207.3 1390.0 L1208.3 1376.7 L1209.3 1361.7 L1210.3 1344.8 L1211.3 1325.9 L1212.3 1305.1 L1213.3 1282.4 L1214.3 1257.9 L1215.3 1231.6 L1216.3 1203.9 L1217.3 1174.9 L1218.3 1145.0 L1219.3 1114.5 L1220.3 1083.8 L1221.3 1053.5 L1222.3 1023.9 L1223.3 995.7 L1224.3 969.3 L1225.3 945.2 L1226.3 923.9 L1227.3 905.9 L1228.3 891.6 L1229.3 881.1 L1230.3 874.9 L1231.3 872.9 L1232.3 875.3 L1233.3 882.0 L1234.3 892.9 L1235.3 907.7 L1236.3 926.0 L1237.3 947.6 L1238.3 972.0 L1239.3 998.6 L1240.3 1027.0 L1241.3 1056.7 L1242.3 1087.1 L1243.3 1117.8 L1244.3 1148.3 L1245.3 1178.2 L1246.3 1207.1 L1247.3 1234.7 L1248.3 1260.8 L1249.3 1285.2 L1250.3 1307.7 L1251.3 1328.4 L1252.3 1347.0 L1253.3 1363.8 L1254.3 1378.7 L1255.3 1391.8 L1256.3 1403.2 L1257.3 1413.1 L1258.3 1421.5 L1259.3 1428.7 L1260.3 1434.7 L1261.3 1439.8 L1262.3 1444.0 L1263.3 1447.4 L1264.3 1450.2 L1265.3 1452.4 L1266.3 1454.2 L1267.3 1455.7 L1268.3 1456.8 L1269.3 1457.7 L1270.3 1458.3 L1271.3 1458.9 L1272.3 1459.3 L1273.3 1459.6 L1274.3 1459.8 L1275.3 1460.0 L1276.3 1460.1 L1277.3 1460.2 L1278.3 1460.3 L1279.3 1460.4 L1280.3 1460.4 L1281.3 1460.5 L1282.3 1460.5 L1283.3 1460.5 L1284.3 1460.5 L1285.3 1460.5 L1286.3 1460.6 L1287.3 1460.6 L1288.3 1460.6 L1289.3 1460.6 L1290.3 1460.6 L1291.3 1460.6 L1292.3 1460.6 L1293.3 1460.7 L1294.3 1460.7 L1295.3 1460.7 L1296.3 1460.7 L1297.3 1460.7 L1298.3 1460.7 L1299.3 1460.7 L1300.3 1460.7 L1301.3 1460.8 L1302.3 1460.8 L1303.3 1460.8 L1304.3 1460.8 L1305.3 1460.8 L1306.3 1460.8 L1307.3 1460.8 L1308.3 1460.8 L1309.3 1460.8 L1310.3 1460.9 L1311.3 1460.9 L1312.3 1460.9 L1313.3 1460.9 L1314.3 1460.9" stroke="#ff0000" stroke-width="7.6"/>
<path d="M1334.2 1395.1 L1335.7 1386.2 L1337.7 1400.3 L1339.9 1376.1 L1341.5 1386.8 L1343.1 1373.0 L1344.7 1389.3 L1346.4 1367.6 L1348.5 1380.2 L1350.4 1356.1 L1352.2 1367.9 L1354.3 1349.5 L1355.9 1353.6 L1358.1 1324.6 L1360.1 1337.9 L1362.1 1318.3 L1364.3 1325.7 L1366.2 1285.9 L1367.8 1309.7 L1369.4 1281.0 L1371.4 1295.4 L1373.6 1279.7 L1375.6 1302.8 L1377.8 1276.4 L1379.8 1291.6 L1381.7 1275.2 L1383.6 1293.0 L1385.3 1266.8 L1386.9 1281.2 L1388.7 1260.1 L1390.5 1277.0 L1392.1 1255.7 L1393.7 1266.7 L1395.7 1243.2 L1397.8 1262.8 L1399.7 1238.8 L1401.3 1247.0 L1402.9 1226.9 L1405.0 1240.3 L1406.8 1221.9 L1409.0 1230.8 L1410.6 1216.4 L1412.3 1225.1 L1413.9 1212.9 L1415.5 1219.5 L1417.4 1200.1 L1419.2 1208.6 L1421.2 1185.9 L1423.0 1199.8 L1425.0 1183.8 L1426.9 1188.6 L1428.9 1163.3 L1430.5 1188.0 L1432.2 1176.1 L1434.0 1189.4 L1435.5 1169.9 L1437.1 1194.2 L1439.0 1169.5 L1441.0 1189.2 L1442.6 1172.8 L1444.2 1191.4 L1445.8 1167.1 L1448.1 1186.0 L1449.9 1163.1 L1451.4 1172.2 L1453.2 1157.8 L1455.3 1184.1 L1457.3 1160.0 L1458.9 1167.8 L1460.7 1141.4 L1462.2 1163.5 L1464.4 1131.7 L1466.3 1137.7 L1468.2 1111.9 L1470.0 1127.9 L1472.1 1094.2 L1474.2 1120.2 L1476.1 1093.0 L1478.1 1110.0 L1480.4 1104.1 L1482.1 1128.6 L1484.0 1107.6 L1486.0 1123.7 L1488.2 1100.0 L1489.8 1128.3 L1491.8 1108.1 L1493.6 1125.2 L1495.6 1107.9 L1497.3 1142.5 L1499.4 1124.1 L1500.9 1158.3 L1502.8 1134.0 L1504.4 1159.1 L1506.2 1137.8 L1508.4 1156.1 L1510.4 1127.7 L1512.5 1146.9 L1514.1 1110.6 L1515.8 1139.0 L1517.4 1118.0 L1519.7 1136.2 L1521.3 1118.4 L1523.5 1144.6 L1525.6 1120.9 L1527.9 1145.8 L1529.4 1128.0 L1531.4 1150.1 L1533.0 1120.1 L1534.8 1168.8 L1536.5 1125.9 L1538.7 1160.6 L1540.8 1122.5 L1543.0 1158.2 L1544.6 1142.5 L1546.5 1156.9 L1548.4 1123.0 L1550.5 1155.2 L1552.4 1144.2 L1554.6 1181.3 L1556.3 1163.7 L1558.0 1186.0 L1560.3 1157.1 L1562.2 1187.3 L1564.3 1161.6 L1566.0 1182.2 L1568.2 1145.5 L1570.0 1165.1 L1572.0 1134.5 L1573.6 1168.6 L1575.3 1136.9 L1577.0 1176.6 L1578.6 1156.4 L1580.2 1188.1 L1582.0 1169.1 L1584.1 1185.0 L1585.6 1157.8 L1587.5 1171.8 L1589.7 1146.5 L1591.9 1178.9 L1593.5 1157.0 L1595.4 1171.7 L1597.1 1154.1 L1599.2 1193.0 L1601.4 1190.4 L1603.7 1226.9 L1605.8 1200.2 L1607.6 1234.2 L1609.8 1197.3 L1611.9 1232.7 L1613.7 1192.8 L1615.3 1221.9 L1617.2 1182.4 L1619.4 1222.3 L1621.6 1199.0 L1623.8 1222.9 L1625.6 1202.7 L1627.3 1220.5 L1629.2 1202.8 L1631.4 1209.3 L1633.1 1193.9 L1635.2 1232.2 L1637.2 1189.9 L1638.9 1226.7 L1640.5 1201.8 L1642.6 1243.5 L1644.5 1208.8 L1646.6 1253.0 L1648.7 1222.4 L1650.9 1235.6 L1653.0 1212.9 L1655.3 1227.7 L1657.0 1211.1 L1658.6 1226.7 L1660.4 1212.2 L1662.1 1233.7 L1664.1 1224.3 L1665.9 1241.6 L1667.5 1231.2 L1669.4 1260.0 L1671.1 1250.8 L1673.1 1264.2 L1674.7 1240.3 L1676.8 1255.6 L1678.4 1230.8 L1680.1 1241.9 L1682.3 1230.1 L1684.2 1250.3 L1686.3 1223.5 L1688.2 1246.4 L1690.2 1236.5 L1692.0 1249.2 L1693.9 1238.5 L1695.8 1250.8 L1697.8 1238.4 L1699.9 1247.5 L1702.1 1241.2 L1704.3 1252.3 L1705.8 1247.2 L1707.8 1255.6 L1710.1 1253.6 L1712.0 1267.0 L1714.1 1252.2 L1716.1 1265.6 L1718.0 1251.2 L1720.3 1262.5 L1722.0 1244.8 L1724.0 1269.3 L1725.5 1249.0 L1727.6 1285.6 L1729.1 1268.4 L1730.8 1303.6 L1732.6 1282.6 L1734.2 1305.9 L1735.9 1280.4 L1737.5 1314.1 L1739.1 1292.5 L1740.9 1312.0 L1742.7 1282.1 L1744.8 1307.0 L1746.5 1267.3 L1748.4 1297.7 L1750.6 1275.3 L1752.3 1314.7 L1754.0 1267.1 L1755.9 1296.4 L1757.9 1270.4 L1759.7 1304.6 L1761.9 1289.0 L1763.9 1307.8 L1766.0 1304.2 L1767.9 1326.2 L1769.6 1313.3 L1771.3 1351.3 L1773.1 1297.9 L1774.8 1349.7 L1776.9 1298.8 L1779.2 1363.1 L1781.2 1292.9 L1783.3 1324.6 L1785.6 1273.8 L1787.7 1324.4 L1789.4 1295.1 L1791.3 1326.6 L1793.2 1312.3 L1795.1 1339.6 L1797.2 1319.9 L1799.4 1348.2 L1801.0 1326.0 L1802.6 1356.1 L1804.6 1331.2 L1806.5 1346.7 L1808.1 1319.9 L1810.1 1344.6 L1811.8 1328.5 L1813.3 1353.4 L1815.4 1341.4 L1817.2 1348.1 L1818.8 1340.9 L1820.7 1347.5 L1822.6 1330.8 L1824.4 1341.1 L1826.2 1330.3 L1828.5 1351.6 L1830.1 1336.4 L1832.2 1353.0 L1834.0 1340.6 L1836.1 1353.0 L1837.7 1340.0 L1839.7 1354.0 L1841.3 1341.7 L1843.4 1368.4 L1845.1 1342.0 L1846.8 1368.3 L1848.8 1358.1 L1850.4 1376.3 L1852.4 1352.7 L1854.5 1369.2 L1856.0 1337.2 L1857.8 1337.4 L1859.8 1318.5 L1861.4 1329.2 L1863.4 1309.4 L1865.6 1334.3 L1867.1 1319.0 L1868.7 1348.8 L1870.3 1338.5 L1871.8 1374.0 L1873.6 1364.7 L1875.5 1399.1 L1877.7 1398.6 L1879.6 1425.7 L1881.4 1416.9 L1883.5 1444.9 L1885.4 1434.6 L1887.5 1451.0 L1889.1 1423.5 L1891.2 1436.5 L1892.9 1389.5 L1895.0 1406.8 L1896.7 1353.1 L1898.5 1405.4 L1900.2 1345.5 L1902.5 1382.8 L1904.0 1306.7 L1906.2 1360.9 L1908.2 1327.1 L1910.0 1348.6 L1912.1 1321.0 L1913.7 1360.7 L1915.9 1344.3 L1917.5 1378.7 L1919.1 1355.7 L1921.3 1399.2 L1923.0 1386.5 L1924.7 1421.9 L1926.8 1402.6 L1928.5 1415.3 L1930.4 1359.8 L1932.1 1409.2 L1933.8 1357.0 L1935.6 1395.5 L1937.7 1354.0 L1939.9 1396.9 L1942.0 1338.0 L1944.2 1379.5 L1945.9 1366.4 L1947.6 1395.5 L1949.1 1363.5 L1951.3 1393.1 L1953.2 1362.7 L1955.4 1388.2 L1957.1 1343.0 L1959.0 1376.3 L1960.8 1328.9 L1962.6 1381.6 L1964.3 1317.5 L1965.9 1378.1 L1968.1 1319.8 L1970.3 1388.4 L1972.5 1332.7 L1974.6 1355.1 L1976.4 1325.4 L1978.3 1359.8 L1979.9 1347.1 L1981.5 1392.2 L1983.4 1361.1 L1985.1 1410.1 L1986.9 1352.4 L1988.7 1423.9 L1990.7 1368.8 L1992.7 1395.8 L1994.9 1324.1 L1996.6 1367.4 L1998.7 1333.5 L2000.8 1396.3 L2002.4 1345.6 L2004.6 1419.8 L2006.2 1373.3 L2008.0 1432.9 L2009.7 1420.3" stroke="#0000ff" stroke-width="2.8"/>
<path d="M1334.2 1397.8 L1336.4 1370.4 L1341.8 1405.4 L1346.4 1350.5 L1350.2 1378.0 L1354.8 1335.3 L1358.6 1365.8 L1360.9 1304.7 L1365.4 1291.0 L1368.5 1324.6 L1373.8 1240.0 L1381.5 1311.8 L1387.6 1249.2 L1390.6 1244.6 L1394.4 1273.6 L1399.0 1250.7 L1402.1 1198.8 L1407.4 1243.1 L1411.2 1217.2 L1413.5 1241.6 L1415.0 1179.0 L1418.8 1215.6 L1422.7 1165.3 L1426.5 1200.4 L1433.3 1148.5 L1438.7 1205.0 L1445.5 1153.1 L1451.6 1194.3 L1454.7 1140.9 L1462.3 1180.5 L1464.6 1099.7 L1468.4 1139.3 L1470.7 1087.5 L1475.3 1085.9 L1477.6 1134.8 L1480.6 1092.0 L1488.3 1137.8 L1492.8 1089.0 L1498.9 1108.8 L1501.2 1194.3 L1503.8 1145.4 L1507.3 1171.4 L1511.2 1084.4 L1514.2 1154.6 L1518.8 1101.2 L1529.5 1163.8 L1533.3 1093.6 L1540.1 1180.5 L1543.2 1110.4 L1547.8 1159.2 L1553.1 1122.6 L1556.2 1157.7 L1558.5 1218.7 L1563.0 1182.1 L1569.1 1125.6 L1574.1 1125.9 L1577.1 1205.3 L1582.5 1153.4 L1587.0 1180.9 L1590.9 1125.9 L1595.4 1138.1 L1597.7 1199.2 L1603.8 1187.0 L1608.4 1266.3 L1612.2 1174.8 L1616.8 1171.7 L1620.6 1234.3 L1625.2 1197.7 L1632.8 1225.1 L1636.6 1142.7 L1640.4 1237.3 L1645.0 1254.1 L1648.1 1200.7 L1652.7 1235.8 L1658.8 1206.8 L1663.3 1206.8 L1667.9 1260.2 L1674.0 1267.8 L1677.8 1243.4 L1680.9 1208.3 L1686.2 1225.1 L1689.3 1270.9 L1693.8 1234.3 L1698.4 1234.3 L1705.3 1258.7 L1712.2 1243.4 L1716.7 1284.6 L1720.6 1252.6 L1725.1 1235.8 L1729.7 1254.1 L1733.5 1338.0 L1738.1 1292.3 L1744.2 1269.4 L1749.5 1335.0 L1752.6 1225.1 L1760.2 1319.7 L1762.5 1281.6 L1768.6 1302.9 L1775.5 1390.2 L1778.5 1235.8 L1782.3 1356.3 L1783.9 1298.4 L1788.5 1272.4 L1793.0 1322.8 L1799.9 1376.2 L1804.5 1284.6 L1808.3 1338.0 L1812.5 1336.5 L1815.2 1370.9 L1820.6 1332.5 L1827.4 1323.0 L1832.1 1362.2 L1839.5 1328.4 L1846.3 1348.7 L1849.0 1408.7 L1854.4 1343.3 L1859.8 1310.9 L1866.5 1298.7 L1871.9 1384.4 L1876.0 1373.0 L1882.7 1454.6 L1889.5 1439.8 L1894.9 1411.4 L1896.9 1323.0 L1901.6 1325.7 L1903.7 1416.8 L1908.4 1278.5 L1913.8 1325.7 L1917.8 1346.0 L1921.2 1470.8 L1924.6 1373.0 L1932.7 1415.5 L1936.7 1292.0 L1940.8 1397.9 L1947.5 1347.3 L1952.9 1400.6 L1957.0 1366.2 L1963.0 1255.5 L1965.7 1487.7 L1967.8 1325.7 L1971.8 1328.4 L1974.5 1366.2 L1977.9 1306.8 L1984.0 1348.7 L1986.7 1487.7 L1993.4 1319.0 L2000.2 1306.8 L2005.6 1454.6 L2011.0 1413.5" stroke="#0000ff" stroke-width="4.8"/>
<path d="M1334.2 1421.2 L1336.1 1411.0 L1337.9 1421.1 L1339.6 1412.1 L1341.8 1422.4 L1343.7 1414.8 L1345.8 1419.5 L1348.0 1410.0 L1349.7 1417.7 L1351.7 1408.5 L1353.6 1414.0 L1355.7 1406.8 L1357.6 1416.0 L1359.6 1409.6 L1361.8 1421.2 L1363.7 1413.1 L1365.7 1419.3 L1367.7 1408.5 L1369.2 1411.9 L1370.9 1404.6 L1372.6 1409.2 L1374.2 1399.8 L1376.0 1408.1 L1377.7 1401.6 L1379.3 1414.8 L1381.4 1406.3 L1383.0 1415.6 L1385.1 1407.4 L1386.9 1416.2 L1388.5 1407.0 L1390.3 1415.1 L1392.5 1406.1 L1394.7 1414.4 L1396.4 1405.2 L1398.5 1413.5 L1400.7 1403.3 L1402.2 1406.9 L1403.8 1401.2 L1405.4 1409.7 L1407.4 1401.0 L1409.0 1408.6 L1411.2 1402.4 L1413.1 1412.3 L1415.2 1400.6 L1416.8 1415.6 L1418.7 1400.6 L1420.2 1404.5 L1422.5 1393.3 L1424.5 1395.3 L1426.1 1383.0 L1428.2 1397.8 L1430.4 1382.5 L1432.6 1393.0 L1434.9 1389.0 L1436.9 1402.7 L1438.5 1390.8 L1440.1 1399.0 L1441.9 1389.5 L1443.8 1399.8 L1445.7 1382.6 L1447.4 1397.6 L1449.1 1377.1 L1450.8 1387.7 L1452.5 1376.7 L1454.7 1382.7 L1456.7 1375.0 L1458.8 1391.0 L1460.9 1380.1 L1462.8 1383.9 L1464.5 1371.0 L1466.2 1378.7 L1467.8 1366.1 L1469.5 1384.1 L1471.4 1365.1 L1473.6 1380.5 L1475.1 1362.6 L1477.2 1378.5 L1479.4 1364.2 L1481.0 1375.9 L1482.7 1366.0 L1484.9 1371.9 L1487.1 1362.1 L1489.0 1368.9 L1491.1 1356.8 L1493.2 1364.0 L1495.3 1353.4 L1497.1 1362.1 L1499.1 1352.8 L1501.1 1364.5 L1503.1 1357.7 L1504.8 1364.1 L1506.5 1360.2 L1508.0 1367.9 L1510.3 1368.1 L1511.9 1374.5 L1514.1 1363.9 L1516.3 1374.4 L1518.3 1364.6 L1519.8 1374.8 L1522.1 1354.4 L1524.2 1363.9 L1526.2 1350.2 L1528.1 1366.3 L1529.7 1351.5 L1531.3 1361.4 L1533.4 1335.5 L1535.6 1372.2 L1537.3 1350.6 L1539.1 1377.6 L1540.8 1339.6 L1542.6 1359.2 L1544.8 1335.3 L1546.7 1366.7 L1548.5 1345.0 L1550.3 1366.0 L1552.0 1346.9 L1553.6 1373.2 L1555.3 1354.4 L1557.4 1380.8 L1559.2 1358.3 L1560.8 1374.8 L1562.8 1361.9 L1564.3 1371.3 L1566.4 1355.1 L1568.1 1365.0 L1570.3 1358.2 L1572.3 1374.8 L1573.9 1358.4 L1576.2 1371.6 L1578.4 1361.6 L1580.7 1376.6 L1582.7 1363.0 L1584.7 1374.3 L1586.6 1355.5 L1588.6 1365.1 L1590.5 1356.0 L1592.1 1364.5 L1594.2 1353.1 L1596.2 1363.6 L1597.9 1356.6 L1599.7 1374.5 L1601.9 1363.3 L1603.8 1381.0 L1606.1 1365.6 L1607.9 1391.6 L1610.1 1372.0 L1612.3 1389.6 L1614.2 1366.0 L1616.2 1393.7 L1618.1 1367.8 L1620.3 1383.9 L1622.4 1362.2 L1624.7 1389.5 L1626.6 1371.5 L1628.2 1381.6 L1630.3 1365.7 L1632.4 1378.4 L1634.6 1366.0 L1636.1 1374.1 L1638.4 1366.1 L1639.9 1379.5 L1641.8 1371.5 L1643.4 1394.5 L1645.0 1381.9 L1646.8 1398.7 L1648.6 1380.8 L1650.5 1395.1 L1652.2 1377.6 L1653.7 1389.1 L1655.6 1368.7 L1657.4 1385.9 L1659.0 1373.9 L1660.7 1383.4 L1662.6 1375.6 L1664.6 1381.3 L1666.2 1372.7 L1668.4 1378.7 L1670.3 1373.7 L1672.0 1380.4 L1673.6 1375.2 L1675.2 1388.0 L1677.0 1379.2 L1678.8 1396.8 L1680.5 1377.3 L1682.1 1392.2 L1683.8 1382.9 L1685.9 1413.1 L1687.6 1387.2 L1689.3 1405.4 L1691.2 1376.5 L1693.3 1405.8 L1695.0 1366.5 L1696.9 1397.7 L1699.0 1366.8 L1700.9 1390.2 L1703.1 1379.7 L1705.2 1403.2 L1706.7 1385.4 L1708.5 1398.6 L1710.3 1387.1 L1712.4 1414.6 L1714.3 1395.3 L1716.2 1415.3 L1718.1 1392.5 L1720.1 1414.0 L1722.4 1398.0 L1723.9 1410.7 L1726.1 1386.8 L1727.9 1404.5 L1729.9 1393.9 L1731.7 1415.3 L1733.5 1393.5 L1735.8 1408.0 L1738.0 1377.1 L1740.2 1402.5 L1741.9 1373.0 L1743.5 1396.4 L1745.6 1381.0 L1747.5 1407.6 L1749.3 1387.6 L1751.3 1408.6 L1753.1 1405.7 L1755.0 1417.1 L1756.7 1396.8 L1759.0 1418.1 L1760.9 1403.8 L1762.7 1416.4 L1764.5 1397.0 L1766.6 1415.7 L1768.9 1395.9 L1770.6 1406.8 L1772.3 1398.0 L1773.9 1407.0 L1776.1 1393.8 L1778.1 1411.6 L1779.7 1405.6 L1781.8 1411.2 L1783.7 1409.4 L1785.5 1414.3 L1787.7 1404.2 L1789.8 1406.6 L1791.3 1398.4 L1793.5 1407.0 L1795.6 1389.4 L1797.4 1406.7 L1799.0 1378.7 L1800.6 1400.9 L1802.2 1381.7 L1804.1 1403.4 L1806.3 1389.3 L1808.2 1404.0 L1809.7 1386.6 L1811.3 1405.9 L1813.3 1389.8 L1815.3 1412.6 L1816.9 1386.3 L1818.9 1398.7 L1821.1 1380.9 L1823.0 1404.2 L1825.2 1379.8 L1826.9 1404.3 L1828.5 1372.6 L1830.2 1405.8 L1832.0 1386.0 L1833.5 1420.1 L1835.1 1391.5 L1836.8 1409.9 L1838.7 1377.8 L1840.3 1410.7 L1841.9 1390.5 L1843.5 1401.6 L1845.5 1372.6 L1847.2 1391.6 L1849.1 1376.1 L1851.2 1395.0 L1853.2 1383.6 L1855.2 1399.7 L1856.8 1384.6 L1858.7 1402.4 L1860.4 1382.2 L1862.1 1403.2 L1864.0 1385.4 L1865.6 1398.8 L1867.1 1394.0 L1869.1 1425.8 L1870.8 1405.9 L1872.8 1446.3 L1874.4 1419.0 L1876.0 1437.6 L1878.0 1402.6 L1880.1 1438.7 L1882.2 1394.7 L1883.8 1418.5 L1886.1 1373.1 L1887.8 1402.6 L1889.7 1392.0 L1891.4 1407.1 L1892.9 1392.7 L1895.2 1402.8 L1896.9 1388.9 L1898.8 1400.0 L1900.9 1392.9 L1902.7 1399.6 L1904.8 1387.9 L1906.7 1393.8 L1908.5 1378.5 L1910.2 1392.5 L1911.9 1376.9 L1913.7 1401.9 L1915.8 1378.5 L1917.4 1415.2 L1919.3 1373.7 L1920.9 1407.9 L1922.9 1382.4 L1924.9 1415.8 L1926.6 1375.0 L1928.3 1398.2 L1930.5 1367.0 L1932.7 1397.5 L1934.7 1380.9 L1936.7 1440.3 L1938.9 1393.6 L1940.5 1437.3 L1942.7 1415.6 L1944.3 1479.3 L1946.4 1420.5 L1948.3 1447.8 L1950.4 1396.0 L1952.4 1444.5 L1954.6 1381.0 L1956.2 1426.9 L1958.1 1390.8 L1959.6 1397.9 L1961.3 1371.8 L1963.3 1384.8 L1964.9 1351.7 L1966.5 1386.5 L1968.7 1366.1 L1971.0 1388.9 L1973.1 1355.7 L1975.0 1378.9 L1976.7 1339.5 L1978.6 1385.8 L1980.3 1346.9 L1982.1 1404.7 L1983.8 1363.5 L1985.5 1410.7 L1987.4 1369.2 L1989.4 1413.4 L1991.3 1371.8 L1992.9 1419.1 L1995.0 1387.8 L1997.1 1408.3 L1999.0 1369.1 L2000.8 1412.5 L2002.6 1369.9 L2004.5 1411.8 L2006.2 1374.8 L2008.3 1404.8 L2010.3 1368.7" stroke="#ff0000" stroke-width="2.8"/>
<path d="M1334.2 1402.4 L1336.4 1426.8 L1340.3 1408.5 L1346.4 1425.3 L1349.4 1407.0 L1355.5 1402.4 L1360.1 1423.8 L1364.7 1413.1 L1367.7 1425.3 L1370.8 1394.8 L1377.6 1399.4 L1381.5 1422.3 L1389.1 1397.8 L1394.4 1419.2 L1401.3 1405.5 L1404.3 1388.7 L1412.7 1420.7 L1417.3 1393.3 L1422.7 1407.0 L1425.7 1384.1 L1430.3 1373.4 L1434.9 1402.4 L1438.7 1394.8 L1441.7 1411.6 L1444.0 1368.8 L1448.6 1400.9 L1451.6 1352.1 L1454.7 1391.7 L1459.3 1367.3 L1464.6 1393.3 L1468.4 1375.0 L1472.2 1338.3 L1475.3 1390.2 L1479.1 1365.8 L1483.7 1381.1 L1486.7 1355.1 L1491.3 1352.1 L1494.4 1373.4 L1498.9 1349.0 L1503.5 1350.5 L1508.1 1371.9 L1512.7 1370.4 L1516.5 1387.2 L1519.5 1342.9 L1522.6 1379.5 L1525.6 1338.3 L1532.5 1378.0 L1537.1 1304.8 L1540.9 1396.3 L1544.7 1307.8 L1548.5 1371.9 L1553.1 1336.8 L1556.2 1396.3 L1560.7 1344.4 L1563.0 1387.2 L1566.8 1341.4 L1573.3 1358.2 L1577.9 1391.7 L1581.7 1352.1 L1587.0 1378.0 L1590.9 1347.5 L1596.2 1361.2 L1600.8 1349.0 L1603.8 1394.8 L1607.6 1367.3 L1613.0 1400.9 L1616.0 1335.3 L1620.6 1396.3 L1625.2 1367.3 L1628.2 1394.8 L1634.3 1347.5 L1640.4 1370.4 L1646.5 1413.1 L1651.1 1362.7 L1655.7 1391.7 L1658.8 1362.7 L1664.9 1385.6 L1671.0 1367.3 L1677.1 1376.5 L1683.2 1416.2 L1688.5 1344.4 L1691.6 1425.3 L1694.6 1349.0 L1700.0 1414.6 L1705.3 1355.1 L1709.1 1411.6 L1713.7 1384.1 L1717.5 1429.9 L1721.3 1375.0 L1725.1 1410.0 L1728.9 1379.5 L1732.8 1402.4 L1738.1 1423.8 L1741.9 1344.4 L1747.3 1391.7 L1752.6 1423.8 L1757.9 1410.0 L1761.7 1376.5 L1764.8 1428.4 L1770.9 1378.0 L1774.7 1394.8 L1780.8 1419.2 L1786.9 1405.5 L1791.5 1408.5 L1796.1 1375.0 L1800.7 1414.6 L1804.5 1359.7 L1809.0 1413.1 L1812.5 1415.5 L1816.6 1373.7 L1820.6 1404.7 L1825.4 1339.9 L1827.4 1416.9 L1832.8 1362.9 L1836.8 1425.0 L1840.9 1411.5 L1844.9 1358.8 L1850.3 1371.0 L1857.1 1415.5 L1862.5 1376.4 L1866.5 1368.3 L1870.6 1411.5 L1874.6 1487.1 L1882.7 1349.4 L1886.8 1425.0 L1890.8 1380.4 L1894.9 1404.7 L1903.0 1387.2 L1909.7 1398.0 L1916.5 1346.7 L1921.2 1452.0 L1928.6 1334.5 L1932.7 1346.7 L1940.1 1481.7 L1943.5 1425.0 L1947.5 1358.8 L1950.2 1487.1 L1957.6 1341.3 L1961.7 1402.0 L1970.5 1335.9 L1973.8 1402.0 L1978.6 1344.0 L1984.0 1341.3 L1988.7 1479.0 L1990.7 1329.1 L1994.8 1441.2 L1997.5 1337.2 L2002.9 1433.1 L2008.3 1322.4 L2011.0 1411.5" stroke="#ff0000" stroke-width="4.8"/>
<path d="M1155.3 1459.0 L1156.3 1459.0 L1157.3 1459.0 L1158.3 1459.0 L1159.3 1459.0 L1160.3 1459.1 L1161.3 1459.1 L1162.3 1459.1 L1163.3 1459.1 L1164.3 1459.1 L1165.3 1459.1 L1166.3 1459.1 L1167.3 1459.1 L1168.3 1459.2 L1169.3 1459.2 L1170.3 1459.2 L1171.3 1459.2 L1172.3 1459.2 L1173.3 1459.2 L1174.3 1459.2 L1175.3 1459.2 L1176.3 1459.2 L1177.3 1459.3 L1178.3 1459.3 L1179.3 1459.3 L1180.3 1459.3 L1181.3 1459.3 L1182.3 1459.3 L1183.3 1459.3 L1184.3 1459.2 L1185.3 1459.2 L1186.3 1459.1 L1187.3 1459.1 L1188.3 1458.9 L1189.3 1458.8 L1190.3 1458.5 L1191.3 1458.2 L1192.3 1457.8 L1193.3 1457.2 L1194.3 1456.5 L1195.3 1455.5 L1196.3 1454.3 L1197.3 1452.7 L1198.3 1450.7 L1199.3 1448.1 L1200.3 1445.0 L1201.3 1441.0 L1202.3 1436.2 L1203.3 1430.4 L1204.3 1423.5 L1205.3 1415.2 L1206.3 1405.4 L1207.3 1393.9 L1208.3 1380.7 L1209.3 1365.6 L1210.3 1348.4 L1211.3 1329.0 L1212.3 1307.6 L1213.3 1283.9 L1214.3 1258.2 L1215.3 1230.5 L1216.3 1201.0 L1217.3 1170.0 L1218.3 1137.9 L1219.3 1104.9 L1220.3 1071.6 L1221.3 1038.6 L1222.3 1006.2 L1223.3 975.2 L1224.3 946.1 L1225.3 919.5 L1226.3 895.9 L1227.3 876.0 L1228.3 860.0 L1229.3 848.4 L1230.3 841.4 L1231.3 839.2 L1232.3 841.9 L1233.3 849.4 L1234.3 861.5 L1235.3 877.9 L1236.3 898.3 L1237.3 922.2 L1238.3 949.1 L1239.3 978.4 L1240.3 1009.6 L1241.3 1042.1 L1242.3 1075.2 L1243.3 1108.5 L1244.3 1141.5 L1245.3 1173.5 L1246.3 1204.4 L1247.3 1233.7 L1248.3 1261.3 L1249.3 1286.8 L1250.3 1310.3 L1251.3 1331.6 L1252.3 1350.7 L1253.3 1367.7 L1254.3 1382.7 L1255.3 1395.7 L1256.3 1407.0 L1257.3 1416.7 L1258.3 1424.9 L1259.3 1431.7 L1260.3 1437.5 L1261.3 1442.2 L1262.3 1446.0 L1263.3 1449.2 L1264.3 1451.7 L1265.3 1453.7 L1266.3 1455.3 L1267.3 1456.5 L1268.3 1457.5 L1269.3 1458.2 L1270.3 1458.8 L1271.3 1459.2 L1272.3 1459.6 L1273.3 1459.8 L1274.3 1460.0 L1275.3 1460.1 L1276.3 1460.2 L1277.3 1460.3 L1278.3 1460.4 L1279.3 1460.4 L1280.3 1460.4 L1281.3 1460.5 L1282.3 1460.5 L1283.3 1460.5 L1284.3 1460.5 L1285.3 1460.6 L1286.3 1460.6 L1287.3 1460.6 L1288.3 1460.6 L1289.3 1460.6 L1290.3 1460.6 L1291.3 1460.6 L1292.3 1460.6 L1293.3 1460.7 L1294.3 1460.7 L1295.3 1460.7 L1296.3 1460.7 L1297.3 1460.7 L1298.3 1460.7 L1299.3 1460.7 L1300.3 1460.7 L1301.3 1460.8 L1302.3 1460.8 L1303.3 1460.8 L1304.3 1460.8 L1305.3 1460.8 L1306.3 1460.8 L1307.3 1460.8 L1308.3 1460.8 L1309.3 1460.8 L1310.3 1460.9 L1311.3 1460.9 L1312.3 1460.9 L1313.3 1460.9 L1314.3 1460.9" stroke="#000" stroke-width="6.2"/>
<path d="M1332.8 1460.1 H2012.9" stroke="#000" stroke-width="9.8" stroke-linecap="butt"/>
</g>
</g>
<rect x="1659.2" y="255.5" width="1.6" height="6" fill="#777"/>
<g id="arrows">
<line x1="601.3" y1="408.3" x2="693.3" y2="454.9" stroke="#000" stroke-width="6.6" stroke-linecap="round"/>
<polygon points="724.0,470.4 680.2,461.7 691.1,440.3" fill="#000"/>
<line x1="589.5" y1="437.9" x2="707.1" y2="586.5" stroke="#000" stroke-width="6.6" stroke-linecap="round"/>
<polygon points="728.4,613.5 692.3,587.2 711.1,572.3" fill="#000"/>
<line x1="1487.4" y1="408.0" x2="1520.9" y2="422.7" stroke="#000" stroke-width="6.6" stroke-linecap="round"/>
<polygon points="1552.4,436.6 1508.2,430.3 1517.9,408.3" fill="#000"/>
<line x1="1473.6" y1="432.6" x2="1594.1" y2="581.6" stroke="#000" stroke-width="6.6" stroke-linecap="round"/>
<polygon points="1615.7,608.3 1579.3,582.4 1598.0,567.3" fill="#000"/>
<line x1="804.7" y1="1114.5" x2="773.9" y2="1129.2" stroke="#000" stroke-width="6.6" stroke-linecap="round"/>
<polygon points="742.8,1144.0 776.5,1114.7 786.8,1136.3" fill="#000"/>
<line x1="820.2" y1="1145.5" x2="721.2" y2="1311.5" stroke="#000" stroke-width="6.6" stroke-linecap="round"/>
<polygon points="703.6,1341.0 715.3,1297.9 735.9,1310.2" fill="#000"/>
<line x1="1713.8" y1="1146.8" x2="1662.9" y2="1177.3" stroke="#000" stroke-width="6.6" stroke-linecap="round"/>
<polygon points="1633.4,1195.0 1664.1,1162.6 1676.5,1183.2" fill="#000"/>
<line x1="1726.0" y1="1168.0" x2="1630.4" y2="1333.2" stroke="#000" stroke-width="6.6" stroke-linecap="round"/>
<polygon points="1613.2,1363.0 1624.3,1319.8 1645.1,1331.8" fill="#000"/>
</g>
<g id="labels">
<text transform="translate(200.6 1551.3) scale(0.915 1)" font-size="48.3" text-anchor="middle" >370</text>
<text transform="translate(283.0 1551.3) scale(0.915 1)" font-size="48.3" text-anchor="middle" >375</text>
<text transform="translate(405.5 1551.3) scale(0.915 1)" font-size="48.3" text-anchor="middle" >400</text>
<text transform="translate(536.1 1551.3) scale(0.915 1)" font-size="48.3" text-anchor="middle" >450</text>
<text transform="translate(666.6 1551.3) scale(0.915 1)" font-size="48.3" text-anchor="middle" >500</text>
<text transform="translate(797.2 1551.3) scale(0.915 1)" font-size="48.3" text-anchor="middle" >550</text>
<text transform="translate(927.7 1551.3) scale(0.915 1)" font-size="48.3" text-anchor="middle" >600</text>
<text transform="translate(1058.3 1551.3) scale(0.915 1)" font-size="48.3" text-anchor="middle" >650</text>
<text transform="translate(1158.1 1551.3) scale(0.915 1)" font-size="48.3" text-anchor="middle" >370</text>
<text transform="translate(1240.5 1551.3) scale(0.915 1)" font-size="48.3" text-anchor="middle" >375</text>
<text transform="translate(1363.0 1551.3) scale(0.915 1)" font-size="48.3" text-anchor="middle" >400</text>
<text transform="translate(1493.6 1551.3) scale(0.915 1)" font-size="48.3" text-anchor="middle" >450</text>
<text transform="translate(1624.2 1551.3) scale(0.915 1)" font-size="48.3" text-anchor="middle" >500</text>
<text transform="translate(1754.7 1551.3) scale(0.915 1)" font-size="48.3" text-anchor="middle" >550</text>
<text transform="translate(1885.3 1551.3) scale(0.915 1)" font-size="48.3" text-anchor="middle" >600</text>
<text transform="translate(2015.8 1551.3) scale(0.915 1)" font-size="48.3" text-anchor="middle" >650</text>
<text transform="translate(496.2 229.6) scale(1.008 1)" font-size="83.5" text-anchor="start" >R=0.5</text>
<text transform="translate(862.6 203.3) scale(1.04 1)" font-size="89.9" text-anchor="start" >(a)</text>
<text transform="translate(1501.8 229.9) scale(0.99 1)" font-size="83.5" text-anchor="start" >R=1</text>
<text transform="translate(1821.7 207.5) scale(1.04 1)" font-size="88.8" text-anchor="start" >(b)</text>
<text transform="translate(484.6 965.7) scale(1.006 1)" font-size="83.8" text-anchor="start" >R=1.5</text>
<text transform="translate(872.5 939.9) scale(1.01 1)" font-size="89.3" text-anchor="start" >(c)</text>
<text transform="translate(1456.4 965.7) scale(1.005 1)" font-size="83.8" text-anchor="start" >R=2.5</text>
<text transform="translate(1820.3 941.0) scale(1.015 1)" font-size="89.9" text-anchor="start" >(d)</text>
<text transform="translate(365.1 423.8) scale(0.96 1)" font-size="59.3" text-anchor="start" >PL <tspan font-weight="normal" font-family="'Liberation Serif',serif" font-size="62" dx="1.5" dy="1.5">×</tspan><tspan dx="0.5" dy="-1.5">800</tspan></text>
<text transform="translate(1264.0 419.2) scale(0.96 1)" font-size="59.3" text-anchor="start" >PL <tspan font-weight="normal" font-family="'Liberation Serif',serif" font-size="62" dx="1.5" dy="1.5">×</tspan><tspan dx="0.5" dy="-1.5">800</tspan></text>
<text transform="translate(815.7 1131.8) scale(0.96 1)" font-size="59.3" text-anchor="start" >PL <tspan font-weight="normal" font-family="'Liberation Serif',serif" font-size="62" dx="1.5" dy="1.5">×</tspan><tspan dx="0.5" dy="-1.5">800</tspan></text>
<text transform="translate(1728.9 1151.8) scale(0.96 1)" font-size="59.3" text-anchor="start" >PL <tspan font-weight="normal" font-family="'Liberation Serif',serif" font-size="62" dx="1.5" dy="1.5">×</tspan><tspan dx="0.5" dy="-1.5">800</tspan></text>
<text transform="translate(774.5 1664.2) scale(0.995 1)" font-size="90" text-anchor="start" >Wavelength (nm)</text>
<text transform="translate(106.7 1138.0) rotate(-90) scale(0.984 1)" font-size="92">PL Intensity (a. u.)</text>
</g>
</g>
</svg>
</body></html>
